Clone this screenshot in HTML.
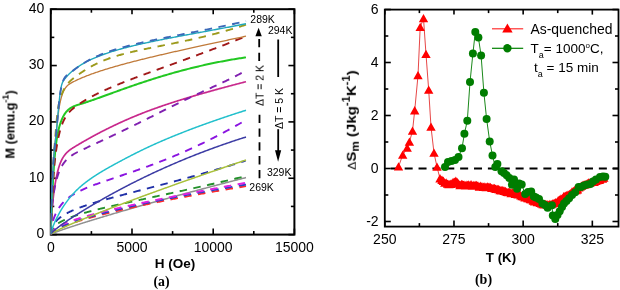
<!DOCTYPE html>
<html><head><meta charset="utf-8"><style>
html,body{margin:0;padding:0;background:#fff;}
svg{display:block;} text{will-change:transform;}
</style></head><body>
<svg width="620" height="290" viewBox="0 0 620 290">
<rect width="620" height="290" fill="#fff"/>
<g stroke="#000" stroke-width="1.6">
<line x1="50.80" y1="234.60" x2="50.80" y2="228.60"/>
<line x1="50.80" y1="9.20" x2="50.80" y2="14.20"/>
<line x1="132.00" y1="234.60" x2="132.00" y2="228.60"/>
<line x1="132.00" y1="9.20" x2="132.00" y2="14.20"/>
<line x1="213.20" y1="234.60" x2="213.20" y2="228.60"/>
<line x1="213.20" y1="9.20" x2="213.20" y2="14.20"/>
<line x1="294.40" y1="234.60" x2="294.40" y2="228.60"/>
<line x1="294.40" y1="9.20" x2="294.40" y2="14.20"/>
<line x1="91.40" y1="234.60" x2="91.40" y2="231.10"/>
<line x1="91.40" y1="9.20" x2="91.40" y2="12.70"/>
<line x1="172.60" y1="234.60" x2="172.60" y2="231.10"/>
<line x1="172.60" y1="9.20" x2="172.60" y2="12.70"/>
<line x1="253.80" y1="234.60" x2="253.80" y2="231.10"/>
<line x1="253.80" y1="9.20" x2="253.80" y2="12.70"/>
<line x1="50.80" y1="234.60" x2="56.80" y2="234.60"/>
<line x1="294.40" y1="234.60" x2="288.40" y2="234.60"/>
<line x1="50.80" y1="178.25" x2="56.80" y2="178.25"/>
<line x1="294.40" y1="178.25" x2="288.40" y2="178.25"/>
<line x1="50.80" y1="121.90" x2="56.80" y2="121.90"/>
<line x1="294.40" y1="121.90" x2="288.40" y2="121.90"/>
<line x1="50.80" y1="65.55" x2="56.80" y2="65.55"/>
<line x1="294.40" y1="65.55" x2="288.40" y2="65.55"/>
<line x1="50.80" y1="9.20" x2="56.80" y2="9.20"/>
<line x1="294.40" y1="9.20" x2="288.40" y2="9.20"/>
<line x1="50.80" y1="206.42" x2="54.30" y2="206.42"/>
<line x1="294.40" y1="206.42" x2="290.90" y2="206.42"/>
<line x1="50.80" y1="150.07" x2="54.30" y2="150.07"/>
<line x1="294.40" y1="150.07" x2="290.90" y2="150.07"/>
<line x1="50.80" y1="93.72" x2="54.30" y2="93.72"/>
<line x1="294.40" y1="93.72" x2="290.90" y2="93.72"/>
<line x1="50.80" y1="37.38" x2="54.30" y2="37.38"/>
<line x1="294.40" y1="37.38" x2="290.90" y2="37.38"/>
</g>
<rect x="50.80" y="9.20" width="243.60" height="225.40" fill="none" stroke="#000" stroke-width="2"/>
<clipPath id="cl"><rect x="50.6" y="9" width="244" height="225.6"/></clipPath>
<g clip-path="url(#cl)" fill="none" stroke-linecap="butt" stroke-linejoin="round">
<path d="M50.80,234.50 L50.80,234.48 L50.81,234.46 L50.82,234.44 L50.83,234.42 L50.85,234.40 L50.88,234.37 L50.91,234.35 L50.94,234.32 L50.98,234.29 L51.02,234.26 L51.06,234.23 L51.11,234.20 L51.17,234.16 L51.23,234.13 L51.29,234.09 L51.36,234.05 L51.43,234.01 L51.51,233.97 L51.59,233.93 L51.67,233.89 L51.76,233.84 L51.86,233.80 L51.96,233.75 L52.06,233.70 L52.16,233.65 L52.28,233.60 L52.39,233.55 L52.51,233.49 L52.64,233.44 L52.77,233.38 L52.90,233.32 L53.04,233.26 L53.18,233.20 L53.32,233.14 L53.47,233.08 L53.63,233.01 L53.79,232.95 L53.95,232.88 L54.12,232.81 L54.29,232.74 L54.47,232.67 L54.65,232.60 L54.84,232.53 L55.03,232.45 L55.22,232.38 L55.42,232.30 L55.62,232.22 L55.83,232.14 L56.04,232.06 L56.26,231.98 L56.48,231.90 L56.70,231.81 L56.93,231.73 L57.17,231.64 L57.40,231.55 L57.65,231.46 L57.89,231.37 L58.15,231.28 L58.40,231.19 L58.66,231.09 L58.92,231.00 L59.19,230.90 L59.47,230.80 L59.74,230.70 L60.02,230.60 L60.31,230.50 L60.60,230.40 L60.90,230.29 L61.20,230.19 L61.50,230.08 L61.81,229.97 L62.12,229.86 L62.44,229.75 L62.76,229.64 L63.08,229.53 L63.41,229.41 L63.75,229.30 L64.08,229.18 L64.43,229.06 L64.77,228.94 L65.13,228.82 L65.48,228.70 L65.84,228.58 L66.21,228.46 L66.58,228.33 L66.95,228.21 L67.33,228.08 L67.71,227.95 L68.09,227.82 L68.49,227.69 L68.88,227.56 L69.28,227.42 L69.68,227.29 L70.09,227.16 L70.51,227.02 L70.92,226.88 L71.34,226.74 L71.77,226.60 L72.20,226.46 L72.63,226.32 L73.07,226.17 L73.52,226.03 L73.96,225.88 L74.42,225.74 L74.87,225.59 L75.33,225.44 L75.80,225.29 L76.27,225.14 L76.74,224.98 L77.22,224.83 L77.70,224.67 L78.19,224.52 L78.68,224.36 L79.18,224.20 L79.68,224.04 L80.18,223.88 L80.69,223.72 L81.20,223.56 L81.72,223.39 L82.24,223.23 L82.77,223.06 L83.30,222.89 L83.83,222.73 L84.37,222.56 L84.92,222.39 L85.46,222.21 L86.02,222.04 L86.57,221.87 L87.13,221.69 L87.70,221.52 L88.27,221.34 L88.84,221.16 L89.42,220.98 L90.01,220.80 L90.59,220.62 L91.18,220.43 L91.78,220.25 L92.38,220.07 L92.99,219.88 L93.60,219.69 L94.21,219.50 L94.83,219.32 L95.45,219.12 L96.08,218.93 L96.71,218.74 L97.34,218.55 L97.98,218.35 L98.63,218.16 L99.27,217.96 L99.93,217.76 L100.58,217.56 L101.25,217.36 L101.91,217.16 L102.58,216.96 L103.26,216.76 L103.94,216.55 L104.62,216.35 L105.31,216.14 L106.00,215.93 L106.70,215.73 L107.40,215.52 L108.10,215.31 L108.81,215.10 L109.53,214.88 L110.24,214.67 L110.97,214.46 L111.69,214.24 L112.42,214.02 L113.16,213.81 L113.90,213.59 L114.65,213.37 L115.39,213.15 L116.15,212.93 L116.91,212.70 L117.67,212.48 L118.43,212.25 L119.20,212.03 L119.98,211.80 L120.76,211.57 L121.54,211.35 L122.33,211.12 L123.12,210.89 L123.92,210.65 L124.72,210.42 L125.53,210.19 L126.34,209.95 L127.15,209.72 L127.97,209.48 L128.79,209.24 L129.62,209.01 L130.45,208.77 L131.29,208.53 L132.13,208.28 L132.98,208.04 L133.82,207.80 L134.68,207.55 L135.54,207.31 L136.40,207.06 L137.27,206.82 L138.14,206.57 L139.01,206.32 L139.89,206.07 L140.78,205.82 L141.67,205.57 L142.56,205.31 L143.46,205.06 L144.36,204.80 L145.26,204.55 L146.17,204.29 L147.09,204.03 L148.01,203.77 L148.93,203.52 L149.86,203.26 L150.79,202.99 L151.73,202.73 L152.67,202.47 L153.62,202.20 L154.56,201.94 L155.52,201.67 L156.48,201.41 L157.44,201.14 L158.41,200.87 L159.38,200.60 L160.36,200.33 L161.34,200.06 L162.32,199.79 L163.31,199.51 L164.30,199.24 L165.30,198.96 L166.30,198.69 L167.31,198.41 L168.32,198.13 L169.34,197.85 L170.36,197.58 L171.38,197.29 L172.41,197.01 L173.44,196.73 L174.48,196.45 L175.52,196.16 L176.57,195.88 L177.62,195.59 L178.67,195.31 L179.73,195.02 L180.79,194.73 L181.86,194.44 L182.93,194.15 L184.01,193.86 L185.09,193.57 L186.17,193.28 L187.26,192.98 L188.36,192.69 L189.46,192.39 L190.56,192.10 L191.67,191.80 L192.78,191.50 L193.89,191.21 L195.01,190.91 L196.14,190.61 L197.27,190.30 L198.40,190.00 L199.54,189.70 L200.68,189.40 L201.83,189.09 L202.98,188.79 L204.13,188.48 L205.29,188.17 L206.45,187.87 L207.62,187.56 L208.79,187.25 L209.97,186.94 L211.15,186.63 L212.34,186.32 L213.53,186.00 L214.72,185.69 L215.92,185.38 L217.12,185.06 L218.33,184.74 L219.54,184.43 L220.76,184.11 L221.98,183.79 L223.21,183.47 L224.43,183.15 L225.67,182.83 L226.91,182.51 L228.15,182.19 L229.40,181.87 L230.65,181.54 L231.90,181.22 L233.16,180.89 L234.43,180.57 L235.69,180.24 L236.97,179.91 L238.24,179.58 L239.53,179.26 L240.81,178.93 L242.10,178.60 L243.40,178.26 L244.70,177.93 L246.00,177.60" stroke="#909090" stroke-width="1.5"/>
<path d="M50.80,234.50 L50.80,234.42 L50.81,234.33 L50.82,234.25 L50.83,234.16 L50.85,234.08 L50.88,233.99 L50.91,233.90 L50.94,233.81 L50.98,233.72 L51.02,233.64 L51.06,233.54 L51.11,233.45 L51.17,233.36 L51.23,233.27 L51.29,233.18 L51.36,233.08 L51.43,232.99 L51.51,232.89 L51.59,232.80 L51.67,232.70 L51.76,232.60 L51.86,232.51 L51.96,232.41 L52.06,232.31 L52.16,232.21 L52.28,232.11 L52.39,232.01 L52.51,231.90 L52.64,231.80 L52.77,231.70 L52.90,231.59 L53.04,231.49 L53.18,231.39 L53.32,231.28 L53.47,231.17 L53.63,231.07 L53.79,230.96 L53.95,230.85 L54.12,230.74 L54.29,230.63 L54.47,230.52 L54.65,230.41 L54.84,230.30 L55.03,230.19 L55.22,230.07 L55.42,229.96 L55.62,229.85 L55.83,229.73 L56.04,229.61 L56.26,229.50 L56.48,229.38 L56.70,229.26 L56.93,229.15 L57.17,229.03 L57.40,228.91 L57.65,228.79 L57.89,228.67 L58.15,228.55 L58.40,228.43 L58.66,228.30 L58.92,228.18 L59.19,228.06 L59.47,227.93 L59.74,227.81 L60.02,227.68 L60.31,227.56 L60.60,227.43 L60.90,227.31 L61.20,227.18 L61.50,227.05 L61.81,226.92 L62.12,226.79 L62.44,226.66 L62.76,226.53 L63.08,226.40 L63.41,226.27 L63.75,226.14 L64.08,226.00 L64.43,225.87 L64.77,225.74 L65.13,225.60 L65.48,225.47 L65.84,225.33 L66.21,225.20 L66.58,225.06 L66.95,224.92 L67.33,224.78 L67.71,224.65 L68.09,224.51 L68.49,224.37 L68.88,224.23 L69.28,224.09 L69.68,223.95 L70.09,223.81 L70.51,223.66 L70.92,223.52 L71.34,223.38 L71.77,223.23 L72.20,223.09 L72.63,222.94 L73.07,222.80 L73.52,222.65 L73.96,222.51 L74.42,222.36 L74.87,222.21 L75.33,222.06 L75.80,221.92 L76.27,221.77 L76.74,221.62 L77.22,221.47 L77.70,221.32 L78.19,221.17 L78.68,221.02 L79.18,220.86 L79.68,220.71 L80.18,220.56 L80.69,220.40 L81.20,220.25 L81.72,220.10 L82.24,219.94 L82.77,219.79 L83.30,219.63 L83.83,219.47 L84.37,219.32 L84.92,219.16 L85.46,219.00 L86.02,218.84 L86.57,218.68 L87.13,218.52 L87.70,218.36 L88.27,218.20 L88.84,218.04 L89.42,217.88 L90.01,217.72 L90.59,217.56 L91.18,217.40 L91.78,217.23 L92.38,217.07 L92.99,216.91 L93.60,216.74 L94.21,216.58 L94.83,216.41 L95.45,216.25 L96.08,216.08 L96.71,215.91 L97.34,215.75 L97.98,215.58 L98.63,215.41 L99.27,215.24 L99.93,215.07 L100.58,214.90 L101.25,214.73 L101.91,214.56 L102.58,214.39 L103.26,214.22 L103.94,214.05 L104.62,213.88 L105.31,213.71 L106.00,213.53 L106.70,213.36 L107.40,213.19 L108.10,213.01 L108.81,212.84 L109.53,212.67 L110.24,212.49 L110.97,212.31 L111.69,212.14 L112.42,211.96 L113.16,211.79 L113.90,211.61 L114.65,211.43 L115.39,211.25 L116.15,211.07 L116.91,210.90 L117.67,210.72 L118.43,210.54 L119.20,210.36 L119.98,210.18 L120.76,210.00 L121.54,209.82 L122.33,209.63 L123.12,209.45 L123.92,209.27 L124.72,209.09 L125.53,208.91 L126.34,208.72 L127.15,208.54 L127.97,208.35 L128.79,208.17 L129.62,207.99 L130.45,207.80 L131.29,207.62 L132.13,207.43 L132.98,207.24 L133.82,207.06 L134.68,206.87 L135.54,206.68 L136.40,206.50 L137.27,206.31 L138.14,206.12 L139.01,205.93 L139.89,205.74 L140.78,205.55 L141.67,205.36 L142.56,205.17 L143.46,204.98 L144.36,204.79 L145.26,204.60 L146.17,204.41 L147.09,204.22 L148.01,204.03 L148.93,203.84 L149.86,203.64 L150.79,203.45 L151.73,203.26 L152.67,203.07 L153.62,202.87 L154.56,202.68 L155.52,202.48 L156.48,202.29 L157.44,202.09 L158.41,201.90 L159.38,201.70 L160.36,201.51 L161.34,201.31 L162.32,201.12 L163.31,200.92 L164.30,200.72 L165.30,200.52 L166.30,200.33 L167.31,200.13 L168.32,199.93 L169.34,199.73 L170.36,199.53 L171.38,199.34 L172.41,199.14 L173.44,198.94 L174.48,198.74 L175.52,198.54 L176.57,198.34 L177.62,198.14 L178.67,197.94 L179.73,197.74 L180.79,197.53 L181.86,197.33 L182.93,197.13 L184.01,196.93 L185.09,196.73 L186.17,196.52 L187.26,196.32 L188.36,196.12 L189.46,195.92 L190.56,195.71 L191.67,195.51 L192.78,195.30 L193.89,195.10 L195.01,194.90 L196.14,194.69 L197.27,194.49 L198.40,194.28 L199.54,194.08 L200.68,193.87 L201.83,193.66 L202.98,193.46 L204.13,193.25 L205.29,193.05 L206.45,192.84 L207.62,192.63 L208.79,192.43 L209.97,192.22 L211.15,192.01 L212.34,191.80 L213.53,191.60 L214.72,191.39 L215.92,191.18 L217.12,190.97 L218.33,190.76 L219.54,190.55 L220.76,190.34 L221.98,190.14 L223.21,189.93 L224.43,189.72 L225.67,189.51 L226.91,189.30 L228.15,189.09 L229.40,188.88 L230.65,188.67 L231.90,188.45 L233.16,188.24 L234.43,188.03 L235.69,187.82 L236.97,187.61 L238.24,187.40 L239.53,187.19 L240.81,186.98 L242.10,186.76 L243.40,186.55 L244.70,186.34 L246.00,186.13" stroke="#ff2a2a" stroke-width="1.9" stroke-dasharray="7.5 6.5"/>
<path d="M50.80,234.50 L50.80,234.41 L50.81,234.31 L50.82,234.22 L50.83,234.12 L50.85,234.03 L50.88,233.93 L50.91,233.84 L50.94,233.74 L50.98,233.64 L51.02,233.54 L51.06,233.44 L51.11,233.34 L51.17,233.24 L51.23,233.14 L51.29,233.04 L51.36,232.93 L51.43,232.83 L51.51,232.73 L51.59,232.62 L51.67,232.52 L51.76,232.41 L51.86,232.30 L51.96,232.20 L52.06,232.09 L52.16,231.98 L52.28,231.87 L52.39,231.76 L52.51,231.65 L52.64,231.54 L52.77,231.43 L52.90,231.31 L53.04,231.20 L53.18,231.09 L53.32,230.97 L53.47,230.86 L53.63,230.74 L53.79,230.63 L53.95,230.51 L54.12,230.39 L54.29,230.28 L54.47,230.16 L54.65,230.04 L54.84,229.92 L55.03,229.80 L55.22,229.68 L55.42,229.56 L55.62,229.43 L55.83,229.31 L56.04,229.19 L56.26,229.06 L56.48,228.94 L56.70,228.81 L56.93,228.69 L57.17,228.56 L57.40,228.44 L57.65,228.31 L57.89,228.18 L58.15,228.05 L58.40,227.92 L58.66,227.79 L58.92,227.66 L59.19,227.53 L59.47,227.40 L59.74,227.27 L60.02,227.14 L60.31,227.00 L60.60,226.87 L60.90,226.74 L61.20,226.60 L61.50,226.47 L61.81,226.33 L62.12,226.19 L62.44,226.06 L62.76,225.92 L63.08,225.78 L63.41,225.64 L63.75,225.50 L64.08,225.36 L64.43,225.22 L64.77,225.08 L65.13,224.94 L65.48,224.80 L65.84,224.66 L66.21,224.52 L66.58,224.37 L66.95,224.23 L67.33,224.08 L67.71,223.94 L68.09,223.79 L68.49,223.65 L68.88,223.50 L69.28,223.35 L69.68,223.21 L70.09,223.06 L70.51,222.91 L70.92,222.76 L71.34,222.61 L71.77,222.46 L72.20,222.31 L72.63,222.16 L73.07,222.01 L73.52,221.86 L73.96,221.70 L74.42,221.55 L74.87,221.40 L75.33,221.24 L75.80,221.09 L76.27,220.94 L76.74,220.78 L77.22,220.62 L77.70,220.47 L78.19,220.31 L78.68,220.15 L79.18,220.00 L79.68,219.84 L80.18,219.68 L80.69,219.52 L81.20,219.36 L81.72,219.20 L82.24,219.04 L82.77,218.88 L83.30,218.72 L83.83,218.55 L84.37,218.39 L84.92,218.23 L85.46,218.07 L86.02,217.90 L86.57,217.74 L87.13,217.57 L87.70,217.41 L88.27,217.24 L88.84,217.08 L89.42,216.91 L90.01,216.74 L90.59,216.58 L91.18,216.41 L91.78,216.24 L92.38,216.07 L92.99,215.90 L93.60,215.73 L94.21,215.56 L94.83,215.39 L95.45,215.22 L96.08,215.05 L96.71,214.88 L97.34,214.71 L97.98,214.53 L98.63,214.36 L99.27,214.19 L99.93,214.02 L100.58,213.84 L101.25,213.67 L101.91,213.49 L102.58,213.32 L103.26,213.14 L103.94,212.96 L104.62,212.79 L105.31,212.61 L106.00,212.43 L106.70,212.26 L107.40,212.08 L108.10,211.90 L108.81,211.72 L109.53,211.54 L110.24,211.36 L110.97,211.18 L111.69,211.00 L112.42,210.82 L113.16,210.64 L113.90,210.46 L114.65,210.28 L115.39,210.09 L116.15,209.91 L116.91,209.73 L117.67,209.55 L118.43,209.36 L119.20,209.18 L119.98,208.99 L120.76,208.81 L121.54,208.62 L122.33,208.44 L123.12,208.25 L123.92,208.07 L124.72,207.88 L125.53,207.69 L126.34,207.51 L127.15,207.32 L127.97,207.13 L128.79,206.94 L129.62,206.75 L130.45,206.57 L131.29,206.38 L132.13,206.19 L132.98,206.00 L133.82,205.81 L134.68,205.62 L135.54,205.42 L136.40,205.23 L137.27,205.04 L138.14,204.85 L139.01,204.66 L139.89,204.47 L140.78,204.27 L141.67,204.08 L142.56,203.89 L143.46,203.69 L144.36,203.50 L145.26,203.30 L146.17,203.11 L147.09,202.91 L148.01,202.72 L148.93,202.52 L149.86,202.33 L150.79,202.13 L151.73,201.94 L152.67,201.74 L153.62,201.54 L154.56,201.34 L155.52,201.15 L156.48,200.95 L157.44,200.75 L158.41,200.55 L159.38,200.35 L160.36,200.15 L161.34,199.96 L162.32,199.76 L163.31,199.56 L164.30,199.36 L165.30,199.16 L166.30,198.96 L167.31,198.75 L168.32,198.55 L169.34,198.35 L170.36,198.15 L171.38,197.95 L172.41,197.75 L173.44,197.54 L174.48,197.34 L175.52,197.14 L176.57,196.94 L177.62,196.73 L178.67,196.53 L179.73,196.32 L180.79,196.12 L181.86,195.92 L182.93,195.71 L184.01,195.51 L185.09,195.30 L186.17,195.10 L187.26,194.89 L188.36,194.68 L189.46,194.48 L190.56,194.27 L191.67,194.07 L192.78,193.86 L193.89,193.65 L195.01,193.45 L196.14,193.24 L197.27,193.03 L198.40,192.82 L199.54,192.61 L200.68,192.41 L201.83,192.20 L202.98,191.99 L204.13,191.78 L205.29,191.57 L206.45,191.36 L207.62,191.15 L208.79,190.94 L209.97,190.73 L211.15,190.52 L212.34,190.31 L213.53,190.10 L214.72,189.89 L215.92,189.68 L217.12,189.47 L218.33,189.26 L219.54,189.05 L220.76,188.84 L221.98,188.63 L223.21,188.41 L224.43,188.20 L225.67,187.99 L226.91,187.78 L228.15,187.56 L229.40,187.35 L230.65,187.14 L231.90,186.93 L233.16,186.71 L234.43,186.50 L235.69,186.29 L236.97,186.07 L238.24,185.86 L239.53,185.65 L240.81,185.43 L242.10,185.22 L243.40,185.00 L244.70,184.79 L246.00,184.57" stroke="#2844c8" stroke-width="1.9" stroke-dasharray="7.5 6.5"/>
<path d="M50.80,234.50 L50.80,234.37 L50.81,234.24 L50.82,234.10 L50.83,233.97 L50.85,233.84 L50.88,233.71 L50.91,233.57 L50.94,233.44 L50.98,233.31 L51.02,233.17 L51.06,233.04 L51.11,232.91 L51.17,232.77 L51.23,232.64 L51.29,232.51 L51.36,232.37 L51.43,232.24 L51.51,232.11 L51.59,231.97 L51.67,231.84 L51.76,231.70 L51.86,231.57 L51.96,231.43 L52.06,231.30 L52.16,231.16 L52.28,231.03 L52.39,230.89 L52.51,230.76 L52.64,230.62 L52.77,230.48 L52.90,230.35 L53.04,230.21 L53.18,230.08 L53.32,229.94 L53.47,229.80 L53.63,229.67 L53.79,229.53 L53.95,229.39 L54.12,229.25 L54.29,229.12 L54.47,228.98 L54.65,228.84 L54.84,228.70 L55.03,228.56 L55.22,228.43 L55.42,228.29 L55.62,228.15 L55.83,228.01 L56.04,227.87 L56.26,227.73 L56.48,227.59 L56.70,227.45 L56.93,227.31 L57.17,227.17 L57.40,227.03 L57.65,226.89 L57.89,226.75 L58.15,226.61 L58.40,226.47 L58.66,226.33 L58.92,226.18 L59.19,226.04 L59.47,225.90 L59.74,225.76 L60.02,225.62 L60.31,225.47 L60.60,225.33 L60.90,225.19 L61.20,225.04 L61.50,224.90 L61.81,224.76 L62.12,224.61 L62.44,224.47 L62.76,224.32 L63.08,224.18 L63.41,224.03 L63.75,223.89 L64.08,223.74 L64.43,223.60 L64.77,223.45 L65.13,223.31 L65.48,223.16 L65.84,223.01 L66.21,222.87 L66.58,222.72 L66.95,222.57 L67.33,222.42 L67.71,222.28 L68.09,222.13 L68.49,221.98 L68.88,221.83 L69.28,221.68 L69.68,221.53 L70.09,221.38 L70.51,221.23 L70.92,221.08 L71.34,220.93 L71.77,220.78 L72.20,220.63 L72.63,220.48 L73.07,220.33 L73.52,220.18 L73.96,220.03 L74.42,219.87 L74.87,219.72 L75.33,219.57 L75.80,219.42 L76.27,219.26 L76.74,219.11 L77.22,218.95 L77.70,218.80 L78.19,218.65 L78.68,218.49 L79.18,218.34 L79.68,218.18 L80.18,218.02 L80.69,217.87 L81.20,217.71 L81.72,217.56 L82.24,217.40 L82.77,217.24 L83.30,217.08 L83.83,216.93 L84.37,216.77 L84.92,216.61 L85.46,216.45 L86.02,216.29 L86.57,216.13 L87.13,215.97 L87.70,215.81 L88.27,215.65 L88.84,215.49 L89.42,215.33 L90.01,215.17 L90.59,215.01 L91.18,214.85 L91.78,214.68 L92.38,214.52 L92.99,214.36 L93.60,214.19 L94.21,214.03 L94.83,213.87 L95.45,213.70 L96.08,213.54 L96.71,213.37 L97.34,213.21 L97.98,213.04 L98.63,212.88 L99.27,212.71 L99.93,212.54 L100.58,212.37 L101.25,212.21 L101.91,212.04 L102.58,211.87 L103.26,211.70 L103.94,211.53 L104.62,211.36 L105.31,211.19 L106.00,211.02 L106.70,210.85 L107.40,210.68 L108.10,210.51 L108.81,210.34 L109.53,210.17 L110.24,210.00 L110.97,209.82 L111.69,209.65 L112.42,209.48 L113.16,209.30 L113.90,209.13 L114.65,208.95 L115.39,208.78 L116.15,208.60 L116.91,208.43 L117.67,208.25 L118.43,208.07 L119.20,207.90 L119.98,207.72 L120.76,207.54 L121.54,207.36 L122.33,207.18 L123.12,207.00 L123.92,206.83 L124.72,206.65 L125.53,206.46 L126.34,206.28 L127.15,206.10 L127.97,205.92 L128.79,205.74 L129.62,205.56 L130.45,205.37 L131.29,205.19 L132.13,205.01 L132.98,204.82 L133.82,204.64 L134.68,204.45 L135.54,204.27 L136.40,204.08 L137.27,203.90 L138.14,203.71 L139.01,203.52 L139.89,203.33 L140.78,203.15 L141.67,202.96 L142.56,202.77 L143.46,202.58 L144.36,202.39 L145.26,202.20 L146.17,202.01 L147.09,201.82 L148.01,201.62 L148.93,201.43 L149.86,201.24 L150.79,201.05 L151.73,200.85 L152.67,200.66 L153.62,200.46 L154.56,200.27 L155.52,200.07 L156.48,199.88 L157.44,199.68 L158.41,199.48 L159.38,199.29 L160.36,199.09 L161.34,198.89 L162.32,198.69 L163.31,198.49 L164.30,198.29 L165.30,198.09 L166.30,197.89 L167.31,197.69 L168.32,197.49 L169.34,197.29 L170.36,197.08 L171.38,196.88 L172.41,196.68 L173.44,196.47 L174.48,196.27 L175.52,196.06 L176.57,195.86 L177.62,195.65 L178.67,195.45 L179.73,195.24 L180.79,195.03 L181.86,194.82 L182.93,194.61 L184.01,194.40 L185.09,194.19 L186.17,193.98 L187.26,193.77 L188.36,193.56 L189.46,193.35 L190.56,193.14 L191.67,192.92 L192.78,192.71 L193.89,192.50 L195.01,192.28 L196.14,192.07 L197.27,191.85 L198.40,191.64 L199.54,191.42 L200.68,191.20 L201.83,190.98 L202.98,190.77 L204.13,190.55 L205.29,190.33 L206.45,190.11 L207.62,189.89 L208.79,189.67 L209.97,189.44 L211.15,189.22 L212.34,189.00 L213.53,188.78 L214.72,188.55 L215.92,188.33 L217.12,188.10 L218.33,187.88 L219.54,187.65 L220.76,187.42 L221.98,187.20 L223.21,186.97 L224.43,186.74 L225.67,186.51 L226.91,186.28 L228.15,186.05 L229.40,185.82 L230.65,185.59 L231.90,185.36 L233.16,185.13 L234.43,184.89 L235.69,184.66 L236.97,184.42 L238.24,184.19 L239.53,183.95 L240.81,183.72 L242.10,183.48 L243.40,183.24 L244.70,183.01 L246.00,182.77" stroke="#e020e0" stroke-width="1.9" stroke-dasharray="7.5 6.5"/>
<path d="M50.80,234.50 L50.80,234.28 L50.81,234.06 L50.82,233.85 L50.83,233.63 L50.85,233.42 L50.88,233.21 L50.91,233.00 L50.94,232.79 L50.98,232.58 L51.02,232.37 L51.06,232.16 L51.11,231.95 L51.17,231.75 L51.23,231.54 L51.29,231.34 L51.36,231.14 L51.43,230.94 L51.51,230.74 L51.59,230.54 L51.67,230.34 L51.76,230.14 L51.86,229.94 L51.96,229.75 L52.06,229.55 L52.16,229.36 L52.28,229.16 L52.39,228.97 L52.51,228.78 L52.64,228.59 L52.77,228.40 L52.90,228.21 L53.04,228.02 L53.18,227.84 L53.32,227.65 L53.47,227.46 L53.63,227.28 L53.79,227.09 L53.95,226.91 L54.12,226.73 L54.29,226.55 L54.47,226.36 L54.65,226.18 L54.84,226.00 L55.03,225.83 L55.22,225.65 L55.42,225.47 L55.62,225.29 L55.83,225.12 L56.04,224.94 L56.26,224.77 L56.48,224.59 L56.70,224.42 L56.93,224.24 L57.17,224.07 L57.40,223.90 L57.65,223.73 L57.89,223.56 L58.15,223.39 L58.40,223.22 L58.66,223.05 L58.92,222.88 L59.19,222.71 L59.47,222.54 L59.74,222.38 L60.02,222.21 L60.31,222.04 L60.60,221.88 L60.90,221.71 L61.20,221.55 L61.50,221.38 L61.81,221.22 L62.12,221.06 L62.44,220.89 L62.76,220.73 L63.08,220.57 L63.41,220.41 L63.75,220.25 L64.08,220.09 L64.43,219.93 L64.77,219.77 L65.13,219.61 L65.48,219.45 L65.84,219.29 L66.21,219.13 L66.58,218.97 L66.95,218.81 L67.33,218.65 L67.71,218.50 L68.09,218.34 L68.49,218.18 L68.88,218.02 L69.28,217.87 L69.68,217.71 L70.09,217.56 L70.51,217.40 L70.92,217.24 L71.34,217.09 L71.77,216.93 L72.20,216.78 L72.63,216.62 L73.07,216.47 L73.52,216.31 L73.96,216.16 L74.42,216.00 L74.87,215.85 L75.33,215.69 L75.80,215.54 L76.27,215.39 L76.74,215.23 L77.22,215.08 L77.70,214.92 L78.19,214.77 L78.68,214.62 L79.18,214.46 L79.68,214.31 L80.18,214.15 L80.69,214.00 L81.20,213.85 L81.72,213.69 L82.24,213.54 L82.77,213.38 L83.30,213.23 L83.83,213.08 L84.37,212.92 L84.92,212.77 L85.46,212.61 L86.02,212.46 L86.57,212.30 L87.13,212.15 L87.70,212.00 L88.27,211.84 L88.84,211.69 L89.42,211.53 L90.01,211.37 L90.59,211.22 L91.18,211.06 L91.78,210.91 L92.38,210.75 L92.99,210.60 L93.60,210.44 L94.21,210.28 L94.83,210.12 L95.45,209.97 L96.08,209.81 L96.71,209.65 L97.34,209.49 L97.98,209.34 L98.63,209.18 L99.27,209.02 L99.93,208.86 L100.58,208.70 L101.25,208.54 L101.91,208.38 L102.58,208.22 L103.26,208.06 L103.94,207.89 L104.62,207.73 L105.31,207.57 L106.00,207.41 L106.70,207.24 L107.40,207.08 L108.10,206.92 L108.81,206.75 L109.53,206.59 L110.24,206.42 L110.97,206.26 L111.69,206.09 L112.42,205.92 L113.16,205.76 L113.90,205.59 L114.65,205.42 L115.39,205.25 L116.15,205.08 L116.91,204.91 L117.67,204.74 L118.43,204.57 L119.20,204.40 L119.98,204.22 L120.76,204.05 L121.54,203.88 L122.33,203.70 L123.12,203.53 L123.92,203.35 L124.72,203.18 L125.53,203.00 L126.34,202.82 L127.15,202.64 L127.97,202.47 L128.79,202.29 L129.62,202.11 L130.45,201.92 L131.29,201.74 L132.13,201.56 L132.98,201.38 L133.82,201.19 L134.68,201.01 L135.54,200.82 L136.40,200.64 L137.27,200.45 L138.14,200.26 L139.01,200.07 L139.89,199.88 L140.78,199.69 L141.67,199.50 L142.56,199.31 L143.46,199.12 L144.36,198.92 L145.26,198.73 L146.17,198.53 L147.09,198.34 L148.01,198.14 L148.93,197.94 L149.86,197.74 L150.79,197.54 L151.73,197.34 L152.67,197.14 L153.62,196.93 L154.56,196.73 L155.52,196.52 L156.48,196.32 L157.44,196.11 L158.41,195.90 L159.38,195.69 L160.36,195.48 L161.34,195.27 L162.32,195.06 L163.31,194.85 L164.30,194.63 L165.30,194.42 L166.30,194.20 L167.31,193.98 L168.32,193.76 L169.34,193.54 L170.36,193.32 L171.38,193.10 L172.41,192.88 L173.44,192.65 L174.48,192.43 L175.52,192.20 L176.57,191.97 L177.62,191.74 L178.67,191.51 L179.73,191.28 L180.79,191.05 L181.86,190.81 L182.93,190.58 L184.01,190.34 L185.09,190.10 L186.17,189.86 L187.26,189.62 L188.36,189.38 L189.46,189.14 L190.56,188.89 L191.67,188.65 L192.78,188.40 L193.89,188.15 L195.01,187.90 L196.14,187.65 L197.27,187.40 L198.40,187.14 L199.54,186.89 L200.68,186.63 L201.83,186.37 L202.98,186.11 L204.13,185.85 L205.29,185.59 L206.45,185.32 L207.62,185.06 L208.79,184.79 L209.97,184.52 L211.15,184.25 L212.34,183.98 L213.53,183.71 L214.72,183.43 L215.92,183.16 L217.12,182.88 L218.33,182.60 L219.54,182.32 L220.76,182.04 L221.98,181.75 L223.21,181.47 L224.43,181.18 L225.67,180.89 L226.91,180.60 L228.15,180.31 L229.40,180.01 L230.65,179.72 L231.90,179.42 L233.16,179.12 L234.43,178.82 L235.69,178.52 L236.97,178.22 L238.24,177.91 L239.53,177.60 L240.81,177.30 L242.10,176.99 L243.40,176.67 L244.70,176.36 L246.00,176.04" stroke="#23902a" stroke-width="1.9" stroke-dasharray="7.5 6.5"/>
<path d="M50.80,234.50 L50.80,234.19 L50.81,233.88 L50.82,233.57 L50.83,233.26 L50.85,232.96 L50.88,232.65 L50.91,232.35 L50.94,232.05 L50.98,231.75 L51.02,231.46 L51.06,231.16 L51.11,230.87 L51.17,230.58 L51.23,230.29 L51.29,230.01 L51.36,229.72 L51.43,229.44 L51.51,229.16 L51.59,228.88 L51.67,228.60 L51.76,228.32 L51.85,228.05 L51.95,227.77 L52.05,227.50 L52.16,227.23 L52.27,226.97 L52.39,226.70 L52.51,226.43 L52.63,226.17 L52.76,225.91 L52.89,225.65 L53.03,225.39 L53.17,225.13 L53.32,224.88 L53.47,224.62 L53.62,224.37 L53.78,224.12 L53.94,223.87 L54.11,223.62 L54.28,223.37 L54.46,223.13 L54.64,222.88 L54.83,222.64 L55.02,222.40 L55.21,222.16 L55.41,221.92 L55.61,221.68 L55.82,221.44 L56.03,221.21 L56.24,220.97 L56.46,220.74 L56.69,220.51 L56.92,220.28 L57.15,220.05 L57.39,219.82 L57.63,219.59 L57.88,219.37 L58.13,219.14 L58.38,218.92 L58.64,218.70 L58.90,218.47 L59.17,218.25 L59.44,218.03 L59.72,217.82 L60.00,217.60 L60.29,217.38 L60.58,217.17 L60.87,216.95 L61.17,216.74 L61.47,216.53 L61.78,216.31 L62.09,216.10 L62.41,215.89 L62.73,215.68 L63.05,215.48 L63.38,215.27 L63.71,215.06 L64.05,214.86 L64.39,214.65 L64.74,214.45 L65.09,214.24 L65.44,214.04 L65.80,213.84 L66.17,213.64 L66.53,213.44 L66.91,213.24 L67.28,213.04 L67.67,212.84 L68.05,212.64 L68.44,212.44 L68.83,212.25 L69.23,212.05 L69.64,211.85 L70.04,211.66 L70.45,211.47 L70.87,211.27 L71.29,211.08 L71.72,210.88 L72.14,210.69 L72.58,210.50 L73.02,210.31 L73.46,210.12 L73.90,209.93 L74.36,209.74 L74.81,209.55 L75.27,209.36 L75.73,209.17 L76.20,208.98 L76.67,208.79 L77.15,208.60 L77.63,208.41 L78.12,208.23 L78.61,208.04 L79.10,207.85 L79.60,207.66 L80.10,207.48 L80.61,207.29 L81.12,207.10 L81.64,206.92 L82.16,206.73 L82.69,206.55 L83.21,206.36 L83.75,206.17 L84.29,205.99 L84.83,205.80 L85.38,205.62 L85.93,205.43 L86.48,205.25 L87.04,205.06 L87.61,204.88 L88.17,204.69 L88.75,204.50 L89.32,204.32 L89.91,204.13 L90.49,203.95 L91.08,203.76 L91.68,203.58 L92.27,203.39 L92.88,203.20 L93.49,203.02 L94.10,202.83 L94.71,202.64 L95.33,202.46 L95.96,202.27 L96.59,202.08 L97.22,201.90 L97.86,201.71 L98.50,201.52 L99.15,201.33 L99.80,201.14 L100.46,200.95 L101.12,200.76 L101.78,200.57 L102.45,200.38 L103.12,200.19 L103.80,200.00 L104.48,199.81 L105.17,199.62 L105.86,199.43 L106.55,199.23 L107.25,199.04 L107.95,198.85 L108.66,198.65 L109.37,198.46 L110.09,198.26 L110.81,198.06 L111.54,197.87 L112.27,197.67 L113.00,197.47 L113.74,197.27 L114.48,197.08 L115.23,196.88 L115.98,196.68 L116.74,196.47 L117.50,196.27 L118.26,196.07 L119.03,195.87 L119.80,195.66 L120.58,195.46 L121.36,195.25 L122.15,195.05 L122.94,194.84 L123.73,194.63 L124.53,194.42 L125.34,194.21 L126.14,194.00 L126.96,193.79 L127.77,193.58 L128.59,193.36 L129.42,193.15 L130.25,192.93 L131.08,192.72 L131.92,192.50 L132.76,192.28 L133.61,192.06 L134.46,191.84 L135.32,191.62 L136.18,191.40 L137.04,191.18 L137.91,190.95 L138.79,190.73 L139.66,190.50 L140.55,190.27 L141.43,190.04 L142.32,189.81 L143.22,189.58 L144.12,189.35 L145.02,189.12 L145.93,188.88 L146.84,188.64 L147.76,188.41 L148.68,188.17 L149.61,187.93 L150.54,187.69 L151.47,187.44 L152.41,187.20 L153.35,186.95 L154.30,186.71 L155.25,186.46 L156.21,186.21 L157.17,185.96 L158.13,185.71 L159.10,185.45 L160.07,185.20 L161.05,184.94 L162.03,184.68 L163.02,184.42 L164.01,184.16 L165.01,183.90 L166.01,183.63 L167.01,183.37 L168.02,183.10 L169.03,182.83 L170.05,182.56 L171.07,182.28 L172.10,182.01 L173.13,181.73 L174.16,181.46 L175.20,181.18 L176.24,180.90 L177.29,180.61 L178.34,180.33 L179.40,180.04 L180.46,179.76 L181.52,179.47 L182.59,179.17 L183.67,178.88 L184.75,178.59 L185.83,178.29 L186.91,177.99 L188.01,177.69 L189.10,177.39 L190.20,177.08 L191.30,176.77 L192.41,176.47 L193.53,176.15 L194.64,175.84 L195.76,175.53 L196.89,175.21 L198.02,174.89 L199.16,174.57 L200.29,174.25 L201.44,173.92 L202.59,173.60 L203.74,173.27 L204.89,172.94 L206.06,172.60 L207.22,172.27 L208.39,171.93 L209.56,171.59 L210.74,171.25 L211.92,170.90 L213.11,170.56 L214.30,170.21 L215.50,169.86 L216.70,169.51 L217.90,169.15 L219.11,168.79 L220.32,168.43 L221.54,168.07 L222.76,167.71 L223.99,167.34 L225.22,166.97 L226.45,166.60 L227.69,166.22 L228.94,165.85 L230.19,165.47 L231.44,165.08 L232.69,164.70 L233.96,164.31 L235.22,163.92 L236.49,163.53 L237.76,163.14 L239.04,162.74 L240.33,162.34 L241.61,161.94 L242.90,161.54 L244.20,161.13 L245.50,160.72" stroke="#2030a8" stroke-width="1.9" stroke-dasharray="7.5 6.5"/>
<path d="M50.80,234.50 L50.80,234.47 L50.81,234.43 L50.82,234.39 L50.83,234.36 L50.85,234.32 L50.88,234.28 L50.91,234.23 L50.94,234.19 L50.98,234.14 L51.02,234.09 L51.06,234.05 L51.11,233.99 L51.17,233.94 L51.23,233.89 L51.29,233.83 L51.36,233.77 L51.43,233.72 L51.51,233.66 L51.59,233.59 L51.67,233.53 L51.76,233.47 L51.86,233.40 L51.96,233.33 L52.06,233.26 L52.16,233.19 L52.28,233.12 L52.39,233.04 L52.51,232.97 L52.64,232.89 L52.77,232.81 L52.90,232.73 L53.04,232.64 L53.18,232.56 L53.32,232.48 L53.47,232.39 L53.63,232.30 L53.79,232.21 L53.95,232.12 L54.12,232.02 L54.29,231.93 L54.47,231.83 L54.65,231.74 L54.84,231.64 L55.03,231.54 L55.22,231.43 L55.42,231.33 L55.62,231.22 L55.83,231.12 L56.04,231.01 L56.26,230.90 L56.48,230.78 L56.70,230.67 L56.93,230.56 L57.17,230.44 L57.40,230.32 L57.65,230.20 L57.89,230.08 L58.15,229.96 L58.40,229.84 L58.66,229.71 L58.92,229.58 L59.19,229.46 L59.47,229.33 L59.74,229.19 L60.02,229.06 L60.31,228.93 L60.60,228.79 L60.90,228.65 L61.20,228.51 L61.50,228.37 L61.81,228.23 L62.12,228.09 L62.44,227.94 L62.76,227.80 L63.08,227.65 L63.41,227.50 L63.75,227.35 L64.08,227.20 L64.43,227.04 L64.77,226.89 L65.13,226.73 L65.48,226.57 L65.84,226.41 L66.21,226.25 L66.58,226.09 L66.95,225.92 L67.33,225.76 L67.71,225.59 L68.09,225.42 L68.49,225.25 L68.88,225.08 L69.28,224.91 L69.68,224.73 L70.09,224.56 L70.51,224.38 L70.92,224.20 L71.34,224.02 L71.77,223.84 L72.20,223.65 L72.63,223.47 L73.07,223.28 L73.52,223.09 L73.96,222.91 L74.42,222.71 L74.87,222.52 L75.33,222.33 L75.80,222.13 L76.27,221.94 L76.74,221.74 L77.22,221.54 L77.70,221.34 L78.19,221.14 L78.68,220.94 L79.18,220.73 L79.68,220.52 L80.18,220.32 L80.69,220.11 L81.20,219.90 L81.72,219.68 L82.24,219.47 L82.77,219.26 L83.30,219.04 L83.83,218.82 L84.37,218.60 L84.92,218.38 L85.46,218.16 L86.02,217.94 L86.57,217.71 L87.13,217.49 L87.70,217.26 L88.27,217.03 L88.84,216.80 L89.42,216.57 L90.01,216.33 L90.59,216.10 L91.18,215.86 L91.78,215.63 L92.38,215.39 L92.99,215.15 L93.60,214.91 L94.21,214.66 L94.83,214.42 L95.45,214.17 L96.08,213.93 L96.71,213.68 L97.34,213.43 L97.98,213.18 L98.63,212.93 L99.27,212.67 L99.93,212.42 L100.58,212.16 L101.25,211.90 L101.91,211.64 L102.58,211.38 L103.26,211.12 L103.94,210.86 L104.62,210.59 L105.31,210.33 L106.00,210.06 L106.70,209.79 L107.40,209.52 L108.10,209.25 L108.81,208.97 L109.53,208.70 L110.24,208.42 L110.97,208.15 L111.69,207.87 L112.42,207.59 L113.16,207.31 L113.90,207.03 L114.65,206.74 L115.39,206.46 L116.15,206.17 L116.91,205.88 L117.67,205.59 L118.43,205.30 L119.20,205.01 L119.98,204.72 L120.76,204.43 L121.54,204.13 L122.33,203.83 L123.12,203.53 L123.92,203.24 L124.72,202.93 L125.53,202.63 L126.34,202.33 L127.15,202.02 L127.97,201.72 L128.79,201.41 L129.62,201.10 L130.45,200.79 L131.29,200.48 L132.13,200.17 L132.98,199.85 L133.82,199.54 L134.68,199.22 L135.54,198.90 L136.40,198.58 L137.27,198.26 L138.14,197.94 L139.01,197.62 L139.89,197.30 L140.78,196.97 L141.67,196.64 L142.56,196.32 L143.46,195.99 L144.36,195.66 L145.26,195.32 L146.17,194.99 L147.09,194.66 L148.01,194.32 L148.93,193.98 L149.86,193.64 L150.79,193.30 L151.73,192.96 L152.67,192.62 L153.62,192.28 L154.56,191.93 L155.52,191.59 L156.48,191.24 L157.44,190.89 L158.41,190.54 L159.38,190.19 L160.36,189.84 L161.34,189.49 L162.32,189.13 L163.31,188.78 L164.30,188.42 L165.30,188.06 L166.30,187.70 L167.31,187.34 L168.32,186.98 L169.34,186.61 L170.36,186.25 L171.38,185.88 L172.41,185.52 L173.44,185.15 L174.48,184.78 L175.52,184.41 L176.57,184.04 L177.62,183.66 L178.67,183.29 L179.73,182.91 L180.79,182.54 L181.86,182.16 L182.93,181.78 L184.01,181.40 L185.09,181.02 L186.17,180.63 L187.26,180.25 L188.36,179.86 L189.46,179.48 L190.56,179.09 L191.67,178.70 L192.78,178.31 L193.89,177.92 L195.01,177.53 L196.14,177.13 L197.27,176.74 L198.40,176.34 L199.54,175.95 L200.68,175.55 L201.83,175.15 L202.98,174.75 L204.13,174.34 L205.29,173.94 L206.45,173.54 L207.62,173.13 L208.79,172.73 L209.97,172.32 L211.15,171.91 L212.34,171.50 L213.53,171.09 L214.72,170.67 L215.92,170.26 L217.12,169.85 L218.33,169.43 L219.54,169.01 L220.76,168.59 L221.98,168.17 L223.21,167.75 L224.43,167.33 L225.67,166.91 L226.91,166.48 L228.15,166.06 L229.40,165.63 L230.65,165.20 L231.90,164.78 L233.16,164.35 L234.43,163.91 L235.69,163.48 L236.97,163.05 L238.24,162.61 L239.53,162.18 L240.81,161.74 L242.10,161.30 L243.40,160.86 L244.70,160.42 L246.00,159.98" stroke="#a8c03a" stroke-width="1.5"/>
<path d="M50.80,234.50 L50.80,234.45 L50.81,234.39 L50.82,234.33 L50.83,234.27 L50.85,234.21 L50.88,234.14 L50.91,234.07 L50.94,234.00 L50.98,233.93 L51.02,233.85 L51.06,233.77 L51.11,233.69 L51.17,233.61 L51.23,233.52 L51.29,233.43 L51.36,233.34 L51.43,233.25 L51.51,233.15 L51.59,233.05 L51.67,232.95 L51.76,232.85 L51.86,232.74 L51.96,232.63 L52.06,232.52 L52.16,232.41 L52.28,232.29 L52.39,232.17 L52.51,232.05 L52.64,231.93 L52.77,231.80 L52.90,231.67 L53.04,231.54 L53.18,231.41 L53.32,231.27 L53.47,231.13 L53.63,230.99 L53.79,230.85 L53.95,230.70 L54.12,230.55 L54.29,230.40 L54.47,230.25 L54.65,230.09 L54.84,229.94 L55.03,229.78 L55.22,229.61 L55.42,229.45 L55.62,229.28 L55.83,229.11 L56.04,228.94 L56.26,228.77 L56.48,228.59 L56.70,228.41 L56.93,228.23 L57.17,228.05 L57.40,227.86 L57.65,227.67 L57.89,227.48 L58.15,227.29 L58.40,227.10 L58.66,226.90 L58.92,226.70 L59.19,226.50 L59.47,226.30 L59.74,226.09 L60.02,225.88 L60.31,225.67 L60.60,225.46 L60.90,225.24 L61.20,225.03 L61.50,224.81 L61.81,224.59 L62.12,224.36 L62.44,224.14 L62.76,223.91 L63.08,223.68 L63.41,223.45 L63.75,223.21 L64.08,222.97 L64.43,222.74 L64.77,222.49 L65.13,222.25 L65.48,222.01 L65.84,221.76 L66.21,221.51 L66.58,221.26 L66.95,221.00 L67.33,220.75 L67.71,220.49 L68.09,220.23 L68.49,219.97 L68.88,219.70 L69.28,219.44 L69.68,219.17 L70.09,218.90 L70.51,218.63 L70.92,218.35 L71.34,218.08 L71.77,217.80 L72.20,217.52 L72.63,217.23 L73.07,216.95 L73.52,216.66 L73.96,216.37 L74.42,216.08 L74.87,215.79 L75.33,215.50 L75.80,215.20 L76.27,214.90 L76.74,214.60 L77.22,214.30 L77.70,214.00 L78.19,213.69 L78.68,213.38 L79.18,213.07 L79.68,212.76 L80.18,212.44 L80.69,212.13 L81.20,211.81 L81.72,211.49 L82.24,211.17 L82.77,210.85 L83.30,210.52 L83.83,210.19 L84.37,209.86 L84.92,209.53 L85.46,209.20 L86.02,208.87 L86.57,208.53 L87.13,208.19 L87.70,207.85 L88.27,207.51 L88.84,207.17 L89.42,206.82 L90.01,206.47 L90.59,206.12 L91.18,205.77 L91.78,205.42 L92.38,205.06 L92.99,204.71 L93.60,204.35 L94.21,203.99 L94.83,203.63 L95.45,203.27 L96.08,202.90 L96.71,202.53 L97.34,202.16 L97.98,201.79 L98.63,201.42 L99.27,201.05 L99.93,200.67 L100.58,200.30 L101.25,199.92 L101.91,199.54 L102.58,199.16 L103.26,198.77 L103.94,198.39 L104.62,198.00 L105.31,197.62 L106.00,197.23 L106.70,196.84 L107.40,196.44 L108.10,196.05 L108.81,195.66 L109.53,195.26 L110.24,194.86 L110.97,194.46 L111.69,194.06 L112.42,193.66 L113.16,193.26 L113.90,192.86 L114.65,192.45 L115.39,192.05 L116.15,191.64 L116.91,191.23 L117.67,190.82 L118.43,190.41 L119.20,190.00 L119.98,189.58 L120.76,189.17 L121.54,188.75 L122.33,188.34 L123.12,187.92 L123.92,187.50 L124.72,187.08 L125.53,186.66 L126.34,186.24 L127.15,185.82 L127.97,185.39 L128.79,184.97 L129.62,184.54 L130.45,184.12 L131.29,183.69 L132.13,183.26 L132.98,182.84 L133.82,182.41 L134.68,181.98 L135.54,181.55 L136.40,181.11 L137.27,180.68 L138.14,180.25 L139.01,179.82 L139.89,179.38 L140.78,178.95 L141.67,178.51 L142.56,178.08 L143.46,177.64 L144.36,177.20 L145.26,176.76 L146.17,176.32 L147.09,175.89 L148.01,175.45 L148.93,175.01 L149.86,174.57 L150.79,174.13 L151.73,173.68 L152.67,173.24 L153.62,172.80 L154.56,172.36 L155.52,171.92 L156.48,171.47 L157.44,171.03 L158.41,170.59 L159.38,170.14 L160.36,169.70 L161.34,169.25 L162.32,168.81 L163.31,168.36 L164.30,167.92 L165.30,167.47 L166.30,167.03 L167.31,166.58 L168.32,166.14 L169.34,165.69 L170.36,165.25 L171.38,164.80 L172.41,164.35 L173.44,163.91 L174.48,163.46 L175.52,163.02 L176.57,162.57 L177.62,162.12 L178.67,161.68 L179.73,161.23 L180.79,160.79 L181.86,160.34 L182.93,159.90 L184.01,159.45 L185.09,159.01 L186.17,158.56 L187.26,158.12 L188.36,157.67 L189.46,157.23 L190.56,156.79 L191.67,156.34 L192.78,155.90 L193.89,155.46 L195.01,155.02 L196.14,154.57 L197.27,154.13 L198.40,153.69 L199.54,153.25 L200.68,152.81 L201.83,152.37 L202.98,151.93 L204.13,151.49 L205.29,151.05 L206.45,150.62 L207.62,150.18 L208.79,149.74 L209.97,149.31 L211.15,148.87 L212.34,148.43 L213.53,148.00 L214.72,147.57 L215.92,147.13 L217.12,146.70 L218.33,146.27 L219.54,145.84 L220.76,145.41 L221.98,144.98 L223.21,144.55 L224.43,144.13 L225.67,143.70 L226.91,143.27 L228.15,142.85 L229.40,142.42 L230.65,142.00 L231.90,141.58 L233.16,141.16 L234.43,140.74 L235.69,140.32 L236.97,139.90 L238.24,139.48 L239.53,139.07 L240.81,138.65 L242.10,138.24 L243.40,137.82 L244.70,137.41 L246.00,137.00" stroke="#3c3ca4" stroke-width="1.5"/>
<path d="M50.80,234.50 L50.80,234.11 L50.81,233.71 L50.82,233.31 L50.83,232.90 L50.85,232.50 L50.88,232.08 L50.91,231.67 L50.94,231.25 L50.98,230.83 L51.02,230.41 L51.06,229.99 L51.11,229.56 L51.17,229.13 L51.23,228.70 L51.29,228.26 L51.36,227.83 L51.43,227.39 L51.51,226.95 L51.59,226.51 L51.67,226.06 L51.76,225.62 L51.86,225.17 L51.96,224.73 L52.06,224.28 L52.16,223.83 L52.28,223.38 L52.39,222.93 L52.51,222.48 L52.64,222.02 L52.77,221.57 L52.90,221.12 L53.04,220.67 L53.18,220.21 L53.32,219.76 L53.47,219.31 L53.63,218.86 L53.79,218.40 L53.95,217.95 L54.12,217.50 L54.29,217.05 L54.47,216.60 L54.65,216.15 L54.84,215.71 L55.03,215.26 L55.22,214.82 L55.42,214.37 L55.62,213.93 L55.83,213.49 L56.04,213.05 L56.26,212.62 L56.48,212.18 L56.70,211.75 L56.93,211.32 L57.17,210.89 L57.40,210.46 L57.65,210.04 L57.89,209.62 L58.15,209.20 L58.40,208.79 L58.66,208.38 L58.92,207.97 L59.19,207.56 L59.47,207.16 L59.74,206.76 L60.02,206.37 L60.31,205.98 L60.60,205.59 L60.90,205.21 L61.20,204.83 L61.50,204.45 L61.81,204.08 L62.12,203.71 L62.44,203.35 L62.76,202.99 L63.08,202.64 L63.41,202.29 L63.75,201.94 L64.08,201.60 L64.43,201.26 L64.77,200.92 L65.13,200.59 L65.48,200.27 L65.84,199.94 L66.21,199.62 L66.58,199.30 L66.95,198.99 L67.33,198.68 L67.71,198.37 L68.09,198.07 L68.49,197.76 L68.88,197.47 L69.28,197.17 L69.68,196.88 L70.09,196.59 L70.51,196.30 L70.92,196.02 L71.34,195.74 L71.77,195.46 L72.20,195.18 L72.63,194.91 L73.07,194.63 L73.52,194.36 L73.96,194.10 L74.42,193.83 L74.87,193.57 L75.33,193.31 L75.80,193.05 L76.27,192.79 L76.74,192.54 L77.22,192.28 L77.70,192.03 L78.19,191.78 L78.68,191.53 L79.18,191.28 L79.68,191.04 L80.18,190.79 L80.69,190.55 L81.20,190.31 L81.72,190.07 L82.24,189.83 L82.77,189.59 L83.30,189.35 L83.83,189.12 L84.37,188.88 L84.92,188.64 L85.46,188.41 L86.02,188.18 L86.57,187.94 L87.13,187.71 L87.70,187.48 L88.27,187.25 L88.84,187.02 L89.42,186.78 L90.01,186.55 L90.59,186.32 L91.18,186.09 L91.78,185.86 L92.38,185.63 L92.99,185.40 L93.60,185.17 L94.21,184.94 L94.83,184.71 L95.45,184.48 L96.08,184.25 L96.71,184.02 L97.34,183.79 L97.98,183.56 L98.63,183.33 L99.27,183.10 L99.93,182.87 L100.58,182.63 L101.25,182.40 L101.91,182.17 L102.58,181.93 L103.26,181.70 L103.94,181.46 L104.62,181.23 L105.31,180.99 L106.00,180.75 L106.70,180.51 L107.40,180.28 L108.10,180.04 L108.81,179.79 L109.53,179.55 L110.24,179.31 L110.97,179.07 L111.69,178.82 L112.42,178.57 L113.16,178.33 L113.90,178.08 L114.65,177.83 L115.39,177.58 L116.15,177.32 L116.91,177.07 L117.67,176.81 L118.43,176.56 L119.20,176.30 L119.98,176.04 L120.76,175.77 L121.54,175.51 L122.33,175.25 L123.12,174.98 L123.92,174.71 L124.72,174.44 L125.53,174.17 L126.34,173.89 L127.15,173.61 L127.97,173.34 L128.79,173.06 L129.62,172.77 L130.45,172.49 L131.29,172.20 L132.13,171.91 L132.98,171.62 L133.82,171.33 L134.68,171.03 L135.54,170.73 L136.40,170.43 L137.27,170.13 L138.14,169.82 L139.01,169.51 L139.89,169.20 L140.78,168.89 L141.67,168.57 L142.56,168.25 L143.46,167.93 L144.36,167.61 L145.26,167.28 L146.17,166.95 L147.09,166.61 L148.01,166.28 L148.93,165.94 L149.86,165.60 L150.79,165.25 L151.73,164.90 L152.67,164.55 L153.62,164.19 L154.56,163.83 L155.52,163.47 L156.48,163.11 L157.44,162.74 L158.41,162.37 L159.38,161.99 L160.36,161.61 L161.34,161.23 L162.32,160.84 L163.31,160.45 L164.30,160.06 L165.30,159.66 L166.30,159.26 L167.31,158.85 L168.32,158.45 L169.34,158.03 L170.36,157.62 L171.38,157.19 L172.41,156.77 L173.44,156.34 L174.48,155.91 L175.52,155.47 L176.57,155.03 L177.62,154.58 L178.67,154.13 L179.73,153.68 L180.79,153.22 L181.86,152.75 L182.93,152.29 L184.01,151.81 L185.09,151.34 L186.17,150.86 L187.26,150.37 L188.36,149.88 L189.46,149.38 L190.56,148.88 L191.67,148.38 L192.78,147.87 L193.89,147.35 L195.01,146.83 L196.14,146.31 L197.27,145.78 L198.40,145.24 L199.54,144.70 L200.68,144.16 L201.83,143.61 L202.98,143.05 L204.13,142.49 L205.29,141.92 L206.45,141.35 L207.62,140.78 L208.79,140.19 L209.97,139.60 L211.15,139.01 L212.34,138.41 L213.53,137.81 L214.72,137.20 L215.92,136.58 L217.12,135.96 L218.33,135.33 L219.54,134.70 L220.76,134.06 L221.98,133.41 L223.21,132.76 L224.43,132.10 L225.67,131.44 L226.91,130.77 L228.15,130.10 L229.40,129.41 L230.65,128.73 L231.90,128.03 L233.16,127.33 L234.43,126.62 L235.69,125.91 L236.97,125.19 L238.24,124.46 L239.53,123.73 L240.81,122.99 L242.10,122.25 L243.40,121.49 L244.70,120.74 L246.00,119.97" stroke="#8a14e0" stroke-width="1.9" stroke-dasharray="7.5 6.5"/>
<path d="M50.80,234.50 L50.80,234.37 L50.81,234.24 L50.82,234.09 L50.83,233.94 L50.85,233.77 L50.88,233.60 L50.91,233.42 L50.94,233.23 L50.98,233.03 L51.02,232.82 L51.06,232.61 L51.11,232.38 L51.17,232.15 L51.23,231.91 L51.29,231.67 L51.36,231.41 L51.43,231.15 L51.51,230.88 L51.59,230.60 L51.67,230.32 L51.76,230.03 L51.86,229.73 L51.96,229.43 L52.06,229.11 L52.16,228.80 L52.28,228.47 L52.39,228.14 L52.51,227.80 L52.64,227.46 L52.77,227.11 L52.90,226.75 L53.04,226.39 L53.18,226.02 L53.32,225.65 L53.47,225.27 L53.63,224.89 L53.79,224.50 L53.95,224.10 L54.12,223.71 L54.29,223.30 L54.47,222.89 L54.65,222.48 L54.84,222.06 L55.03,221.64 L55.22,221.21 L55.42,220.78 L55.62,220.34 L55.83,219.91 L56.04,219.46 L56.26,219.02 L56.48,218.56 L56.70,218.11 L56.93,217.65 L57.17,217.19 L57.40,216.73 L57.65,216.26 L57.89,215.79 L58.15,215.32 L58.40,214.84 L58.66,214.36 L58.92,213.88 L59.19,213.40 L59.47,212.91 L59.74,212.43 L60.02,211.94 L60.31,211.44 L60.60,210.95 L60.90,210.46 L61.20,209.96 L61.50,209.46 L61.81,208.96 L62.12,208.46 L62.44,207.96 L62.76,207.46 L63.08,206.95 L63.41,206.45 L63.75,205.94 L64.08,205.44 L64.43,204.93 L64.77,204.42 L65.13,203.92 L65.48,203.41 L65.84,202.90 L66.21,202.39 L66.58,201.89 L66.95,201.38 L67.33,200.88 L67.71,200.37 L68.09,199.87 L68.49,199.36 L68.88,198.86 L69.28,198.36 L69.68,197.86 L70.09,197.36 L70.51,196.86 L70.92,196.36 L71.34,195.87 L71.77,195.38 L72.20,194.88 L72.63,194.39 L73.07,193.91 L73.52,193.42 L73.96,192.94 L74.42,192.46 L74.87,191.98 L75.33,191.51 L75.80,191.03 L76.27,190.57 L76.74,190.10 L77.22,189.63 L77.70,189.17 L78.19,188.72 L78.68,188.26 L79.18,187.81 L79.68,187.36 L80.18,186.91 L80.69,186.46 L81.20,186.02 L81.72,185.58 L82.24,185.14 L82.77,184.70 L83.30,184.27 L83.83,183.84 L84.37,183.41 L84.92,182.98 L85.46,182.55 L86.02,182.13 L86.57,181.70 L87.13,181.28 L87.70,180.86 L88.27,180.44 L88.84,180.03 L89.42,179.61 L90.01,179.20 L90.59,178.78 L91.18,178.37 L91.78,177.96 L92.38,177.55 L92.99,177.14 L93.60,176.74 L94.21,176.33 L94.83,175.92 L95.45,175.52 L96.08,175.11 L96.71,174.71 L97.34,174.31 L97.98,173.91 L98.63,173.51 L99.27,173.10 L99.93,172.70 L100.58,172.30 L101.25,171.90 L101.91,171.50 L102.58,171.10 L103.26,170.70 L103.94,170.30 L104.62,169.90 L105.31,169.50 L106.00,169.10 L106.70,168.70 L107.40,168.30 L108.10,167.90 L108.81,167.50 L109.53,167.10 L110.24,166.69 L110.97,166.29 L111.69,165.89 L112.42,165.48 L113.16,165.08 L113.90,164.67 L114.65,164.26 L115.39,163.86 L116.15,163.45 L116.91,163.04 L117.67,162.62 L118.43,162.21 L119.20,161.80 L119.98,161.38 L120.76,160.97 L121.54,160.55 L122.33,160.13 L123.12,159.71 L123.92,159.29 L124.72,158.86 L125.53,158.44 L126.34,158.01 L127.15,157.59 L127.97,157.16 L128.79,156.73 L129.62,156.30 L130.45,155.88 L131.29,155.45 L132.13,155.01 L132.98,154.58 L133.82,154.15 L134.68,153.72 L135.54,153.29 L136.40,152.85 L137.27,152.42 L138.14,151.99 L139.01,151.55 L139.89,151.12 L140.78,150.69 L141.67,150.25 L142.56,149.82 L143.46,149.39 L144.36,148.95 L145.26,148.52 L146.17,148.09 L147.09,147.65 L148.01,147.22 L148.93,146.79 L149.86,146.36 L150.79,145.93 L151.73,145.50 L152.67,145.07 L153.62,144.64 L154.56,144.21 L155.52,143.78 L156.48,143.35 L157.44,142.92 L158.41,142.50 L159.38,142.07 L160.36,141.64 L161.34,141.22 L162.32,140.79 L163.31,140.36 L164.30,139.94 L165.30,139.51 L166.30,139.09 L167.31,138.67 L168.32,138.24 L169.34,137.82 L170.36,137.39 L171.38,136.97 L172.41,136.55 L173.44,136.13 L174.48,135.70 L175.52,135.28 L176.57,134.86 L177.62,134.44 L178.67,134.02 L179.73,133.60 L180.79,133.18 L181.86,132.76 L182.93,132.34 L184.01,131.92 L185.09,131.50 L186.17,131.08 L187.26,130.66 L188.36,130.24 L189.46,129.82 L190.56,129.40 L191.67,128.98 L192.78,128.56 L193.89,128.15 L195.01,127.73 L196.14,127.31 L197.27,126.89 L198.40,126.48 L199.54,126.06 L200.68,125.64 L201.83,125.22 L202.98,124.81 L204.13,124.39 L205.29,123.97 L206.45,123.56 L207.62,123.14 L208.79,122.72 L209.97,122.31 L211.15,121.89 L212.34,121.48 L213.53,121.06 L214.72,120.64 L215.92,120.23 L217.12,119.81 L218.33,119.40 L219.54,118.98 L220.76,118.57 L221.98,118.15 L223.21,117.73 L224.43,117.32 L225.67,116.90 L226.91,116.49 L228.15,116.07 L229.40,115.66 L230.65,115.24 L231.90,114.83 L233.16,114.41 L234.43,113.99 L235.69,113.58 L236.97,113.16 L238.24,112.75 L239.53,112.33 L240.81,111.92 L242.10,111.50 L243.40,111.08 L244.70,110.67 L246.00,110.25" stroke="#22c0cc" stroke-width="1.5"/>
<path d="M50.80,234.50 L50.80,233.79 L50.81,233.05 L50.82,232.27 L50.83,231.45 L50.85,230.61 L50.88,229.73 L50.91,228.81 L50.94,227.87 L50.98,226.90 L51.02,225.91 L51.06,224.89 L51.11,223.84 L51.17,222.77 L51.23,221.67 L51.29,220.56 L51.36,219.43 L51.43,218.27 L51.51,217.11 L51.59,215.92 L51.67,214.72 L51.76,213.51 L51.86,212.28 L51.96,211.04 L52.06,209.80 L52.16,208.54 L52.28,207.28 L52.39,206.01 L52.51,204.74 L52.64,203.46 L52.77,202.18 L52.90,200.90 L53.04,199.62 L53.18,198.34 L53.32,197.07 L53.47,195.79 L53.63,194.53 L53.79,193.27 L53.95,192.01 L54.12,190.77 L54.29,189.53 L54.47,188.30 L54.65,187.08 L54.84,185.88 L55.03,184.68 L55.22,183.50 L55.42,182.33 L55.62,181.18 L55.83,180.04 L56.04,178.91 L56.26,177.81 L56.48,176.72 L56.70,175.65 L56.93,174.60 L57.17,173.57 L57.40,172.56 L57.65,171.57 L57.89,170.60 L58.15,169.66 L58.40,168.74 L58.66,167.85 L58.92,166.98 L59.19,166.14 L59.47,165.33 L59.74,164.54 L60.02,163.78 L60.31,163.04 L60.60,162.33 L60.90,161.64 L61.20,160.97 L61.50,160.33 L61.81,159.70 L62.12,159.10 L62.44,158.52 L62.76,157.95 L63.08,157.41 L63.41,156.88 L63.75,156.38 L64.08,155.88 L64.43,155.41 L64.77,154.95 L65.13,154.50 L65.48,154.07 L65.84,153.66 L66.21,153.25 L66.58,152.86 L66.95,152.48 L67.33,152.11 L67.71,151.76 L68.09,151.41 L68.49,151.07 L68.88,150.74 L69.28,150.42 L69.68,150.10 L70.09,149.80 L70.51,149.49 L70.92,149.20 L71.34,148.91 L71.77,148.62 L72.20,148.33 L72.63,148.05 L73.07,147.77 L73.52,147.50 L73.96,147.22 L74.42,146.94 L74.87,146.67 L75.33,146.39 L75.80,146.11 L76.27,145.83 L76.74,145.55 L77.22,145.26 L77.70,144.97 L78.19,144.69 L78.68,144.39 L79.18,144.10 L79.68,143.81 L80.18,143.51 L80.69,143.21 L81.20,142.91 L81.72,142.61 L82.24,142.31 L82.77,142.00 L83.30,141.70 L83.83,141.39 L84.37,141.08 L84.92,140.77 L85.46,140.46 L86.02,140.14 L86.57,139.83 L87.13,139.51 L87.70,139.19 L88.27,138.87 L88.84,138.55 L89.42,138.23 L90.01,137.90 L90.59,137.58 L91.18,137.25 L91.78,136.92 L92.38,136.59 L92.99,136.26 L93.60,135.93 L94.21,135.60 L94.83,135.27 L95.45,134.93 L96.08,134.60 L96.71,134.26 L97.34,133.92 L97.98,133.58 L98.63,133.24 L99.27,132.90 L99.93,132.56 L100.58,132.22 L101.25,131.87 L101.91,131.53 L102.58,131.18 L103.26,130.84 L103.94,130.49 L104.62,130.14 L105.31,129.80 L106.00,129.45 L106.70,129.10 L107.40,128.75 L108.10,128.40 L108.81,128.05 L109.53,127.70 L110.24,127.34 L110.97,126.99 L111.69,126.64 L112.42,126.28 L113.16,125.93 L113.90,125.58 L114.65,125.22 L115.39,124.87 L116.15,124.51 L116.91,124.16 L117.67,123.80 L118.43,123.44 L119.20,123.09 L119.98,122.73 L120.76,122.37 L121.54,122.02 L122.33,121.66 L123.12,121.30 L123.92,120.95 L124.72,120.59 L125.53,120.23 L126.34,119.88 L127.15,119.52 L127.97,119.16 L128.79,118.81 L129.62,118.45 L130.45,118.09 L131.29,117.74 L132.13,117.38 L132.98,117.03 L133.82,116.67 L134.68,116.31 L135.54,115.96 L136.40,115.61 L137.27,115.25 L138.14,114.90 L139.01,114.54 L139.89,114.19 L140.78,113.84 L141.67,113.49 L142.56,113.14 L143.46,112.78 L144.36,112.43 L145.26,112.08 L146.17,111.74 L147.09,111.39 L148.01,111.04 L148.93,110.69 L149.86,110.35 L150.79,110.00 L151.73,109.66 L152.67,109.31 L153.62,108.97 L154.56,108.62 L155.52,108.28 L156.48,107.94 L157.44,107.60 L158.41,107.26 L159.38,106.92 L160.36,106.58 L161.34,106.24 L162.32,105.90 L163.31,105.56 L164.30,105.23 L165.30,104.89 L166.30,104.55 L167.31,104.22 L168.32,103.88 L169.34,103.55 L170.36,103.21 L171.38,102.88 L172.41,102.54 L173.44,102.21 L174.48,101.88 L175.52,101.54 L176.57,101.21 L177.62,100.88 L178.67,100.55 L179.73,100.21 L180.79,99.88 L181.86,99.55 L182.93,99.22 L184.01,98.89 L185.09,98.56 L186.17,98.23 L187.26,97.90 L188.36,97.57 L189.46,97.24 L190.56,96.91 L191.67,96.58 L192.78,96.25 L193.89,95.92 L195.01,95.59 L196.14,95.27 L197.27,94.94 L198.40,94.61 L199.54,94.28 L200.68,93.95 L201.83,93.62 L202.98,93.29 L204.13,92.97 L205.29,92.64 L206.45,92.31 L207.62,91.98 L208.79,91.65 L209.97,91.32 L211.15,90.99 L212.34,90.66 L213.53,90.34 L214.72,90.01 L215.92,89.68 L217.12,89.35 L218.33,89.02 L219.54,88.69 L220.76,88.36 L221.98,88.03 L223.21,87.70 L224.43,87.37 L225.67,87.04 L226.91,86.71 L228.15,86.37 L229.40,86.04 L230.65,85.71 L231.90,85.38 L233.16,85.05 L234.43,84.71 L235.69,84.38 L236.97,84.05 L238.24,83.71 L239.53,83.38 L240.81,83.04 L242.10,82.71 L243.40,82.37 L244.70,82.04 L246.00,81.70" stroke="#c8288c" stroke-width="1.7"/>
<path d="M50.80,234.50 L50.80,233.38 L50.81,232.26 L50.82,231.13 L50.83,230.00 L50.85,228.87 L50.88,227.73 L50.91,226.59 L50.94,225.45 L50.98,224.30 L51.02,223.15 L51.06,222.00 L51.11,220.86 L51.17,219.71 L51.23,218.56 L51.29,217.41 L51.36,216.26 L51.43,215.11 L51.51,213.97 L51.59,212.82 L51.67,211.68 L51.76,210.55 L51.86,209.41 L51.96,208.28 L52.06,207.16 L52.16,206.03 L52.28,204.92 L52.39,203.81 L52.51,202.70 L52.64,201.60 L52.77,200.51 L52.90,199.43 L53.04,198.35 L53.18,197.28 L53.32,196.22 L53.47,195.17 L53.63,194.13 L53.79,193.10 L53.95,192.08 L54.12,191.07 L54.29,190.07 L54.47,189.08 L54.65,188.10 L54.84,187.14 L55.03,186.19 L55.22,185.25 L55.42,184.32 L55.62,183.41 L55.83,182.51 L56.04,181.63 L56.26,180.76 L56.48,179.91 L56.70,179.08 L56.93,178.25 L57.17,177.45 L57.40,176.66 L57.65,175.88 L57.89,175.13 L58.15,174.38 L58.40,173.66 L58.66,172.95 L58.92,172.26 L59.19,171.58 L59.47,170.92 L59.74,170.28 L60.02,169.65 L60.31,169.03 L60.60,168.43 L60.90,167.85 L61.20,167.27 L61.50,166.71 L61.81,166.17 L62.12,165.64 L62.44,165.12 L62.76,164.61 L63.08,164.12 L63.41,163.63 L63.75,163.16 L64.08,162.70 L64.43,162.25 L64.77,161.81 L65.13,161.39 L65.48,160.97 L65.84,160.56 L66.21,160.16 L66.58,159.77 L66.95,159.39 L67.33,159.02 L67.71,158.66 L68.09,158.30 L68.49,157.95 L68.88,157.61 L69.28,157.28 L69.68,156.96 L70.09,156.64 L70.51,156.33 L70.92,156.02 L71.34,155.72 L71.77,155.43 L72.20,155.14 L72.63,154.85 L73.07,154.57 L73.52,154.30 L73.96,154.03 L74.42,153.76 L74.87,153.50 L75.33,153.23 L75.80,152.98 L76.27,152.72 L76.74,152.47 L77.22,152.22 L77.70,151.97 L78.19,151.73 L78.68,151.48 L79.18,151.24 L79.68,150.99 L80.18,150.75 L80.69,150.51 L81.20,150.26 L81.72,150.02 L82.24,149.78 L82.77,149.53 L83.30,149.28 L83.83,149.04 L84.37,148.79 L84.92,148.53 L85.46,148.28 L86.02,148.03 L86.57,147.77 L87.13,147.51 L87.70,147.25 L88.27,146.98 L88.84,146.72 L89.42,146.45 L90.01,146.18 L90.59,145.91 L91.18,145.63 L91.78,145.36 L92.38,145.08 L92.99,144.80 L93.60,144.52 L94.21,144.23 L94.83,143.95 L95.45,143.66 L96.08,143.37 L96.71,143.07 L97.34,142.78 L97.98,142.48 L98.63,142.18 L99.27,141.88 L99.93,141.58 L100.58,141.27 L101.25,140.96 L101.91,140.65 L102.58,140.34 L103.26,140.02 L103.94,139.70 L104.62,139.38 L105.31,139.06 L106.00,138.74 L106.70,138.41 L107.40,138.08 L108.10,137.75 L108.81,137.42 L109.53,137.08 L110.24,136.74 L110.97,136.40 L111.69,136.06 L112.42,135.71 L113.16,135.36 L113.90,135.01 L114.65,134.66 L115.39,134.30 L116.15,133.95 L116.91,133.58 L117.67,133.22 L118.43,132.86 L119.20,132.49 L119.98,132.12 L120.76,131.74 L121.54,131.37 L122.33,130.99 L123.12,130.61 L123.92,130.23 L124.72,129.84 L125.53,129.45 L126.34,129.06 L127.15,128.67 L127.97,128.27 L128.79,127.87 L129.62,127.47 L130.45,127.06 L131.29,126.66 L132.13,126.25 L132.98,125.83 L133.82,125.42 L134.68,125.00 L135.54,124.58 L136.40,124.16 L137.27,123.73 L138.14,123.30 L139.01,122.87 L139.89,122.44 L140.78,122.00 L141.67,121.56 L142.56,121.11 L143.46,120.67 L144.36,120.22 L145.26,119.77 L146.17,119.31 L147.09,118.86 L148.01,118.40 L148.93,117.93 L149.86,117.47 L150.79,117.00 L151.73,116.53 L152.67,116.05 L153.62,115.58 L154.56,115.10 L155.52,114.62 L156.48,114.13 L157.44,113.64 L158.41,113.16 L159.38,112.67 L160.36,112.17 L161.34,111.68 L162.32,111.18 L163.31,110.68 L164.30,110.18 L165.30,109.68 L166.30,109.17 L167.31,108.67 L168.32,108.16 L169.34,107.65 L170.36,107.14 L171.38,106.63 L172.41,106.12 L173.44,105.60 L174.48,105.09 L175.52,104.57 L176.57,104.05 L177.62,103.53 L178.67,103.01 L179.73,102.49 L180.79,101.97 L181.86,101.45 L182.93,100.92 L184.01,100.40 L185.09,99.88 L186.17,99.35 L187.26,98.83 L188.36,98.30 L189.46,97.78 L190.56,97.25 L191.67,96.72 L192.78,96.20 L193.89,95.67 L195.01,95.14 L196.14,94.62 L197.27,94.09 L198.40,93.57 L199.54,93.04 L200.68,92.52 L201.83,91.99 L202.98,91.47 L204.13,90.94 L205.29,90.41 L206.45,89.89 L207.62,89.36 L208.79,88.83 L209.97,88.29 L211.15,87.76 L212.34,87.22 L213.53,86.68 L214.72,86.14 L215.92,85.59 L217.12,85.04 L218.33,84.48 L219.54,83.92 L220.76,83.36 L221.98,82.79 L223.21,82.21 L224.43,81.63 L225.67,81.04 L226.91,80.45 L228.15,79.84 L229.40,79.23 L230.65,78.62 L231.90,77.99 L233.16,77.36 L234.43,76.72 L235.69,76.07 L236.97,75.41 L238.24,74.75 L239.53,74.07 L240.81,73.38 L242.10,72.68 L243.40,71.97 L244.70,71.25 L246.00,70.52" stroke="#8020b0" stroke-width="1.9" stroke-dasharray="7.5 6.5"/>
<path d="M50.80,234.50 L50.80,234.35 L50.81,234.06 L50.82,233.62 L50.83,233.04 L50.85,232.33 L50.88,231.49 L50.91,230.53 L50.94,229.45 L50.98,228.25 L51.02,226.94 L51.06,225.54 L51.11,224.03 L51.17,222.43 L51.23,220.74 L51.29,218.96 L51.36,217.11 L51.43,215.18 L51.51,213.19 L51.59,211.13 L51.67,209.01 L51.76,206.83 L51.86,204.61 L51.96,202.34 L52.06,200.04 L52.16,197.70 L52.28,195.33 L52.39,192.93 L52.51,190.52 L52.64,188.09 L52.77,185.65 L52.90,183.21 L53.04,180.77 L53.18,178.33 L53.32,175.91 L53.47,173.50 L53.63,171.11 L53.79,168.74 L53.95,166.41 L54.12,164.11 L54.29,161.85 L54.47,159.64 L54.65,157.47 L54.84,155.36 L55.03,153.32 L55.22,151.33 L55.42,149.42 L55.62,147.58 L55.83,145.82 L56.04,144.13 L56.26,142.50 L56.48,140.95 L56.70,139.45 L56.93,138.02 L57.17,136.65 L57.40,135.32 L57.65,134.05 L57.89,132.83 L58.15,131.65 L58.40,130.52 L58.66,129.42 L58.92,128.36 L59.19,127.34 L59.47,126.34 L59.74,125.38 L60.02,124.45 L60.31,123.55 L60.60,122.69 L60.90,121.85 L61.20,121.04 L61.50,120.26 L61.81,119.50 L62.12,118.77 L62.44,118.07 L62.76,117.40 L63.08,116.75 L63.41,116.13 L63.75,115.53 L64.08,114.95 L64.43,114.40 L64.77,113.86 L65.13,113.35 L65.48,112.86 L65.84,112.39 L66.21,111.94 L66.58,111.51 L66.95,111.10 L67.33,110.70 L67.71,110.33 L68.09,109.97 L68.49,109.62 L68.88,109.29 L69.28,108.97 L69.68,108.67 L70.09,108.38 L70.51,108.11 L70.92,107.85 L71.34,107.59 L71.77,107.35 L72.20,107.12 L72.63,106.90 L73.07,106.69 L73.52,106.48 L73.96,106.29 L74.42,106.10 L74.87,105.91 L75.33,105.74 L75.80,105.56 L76.27,105.40 L76.74,105.23 L77.22,105.07 L77.70,104.92 L78.19,104.76 L78.68,104.61 L79.18,104.45 L79.68,104.30 L80.18,104.15 L80.69,103.99 L81.20,103.84 L81.72,103.68 L82.24,103.52 L82.77,103.35 L83.30,103.19 L83.83,103.02 L84.37,102.84 L84.92,102.67 L85.46,102.49 L86.02,102.31 L86.57,102.13 L87.13,101.94 L87.70,101.75 L88.27,101.56 L88.84,101.37 L89.42,101.17 L90.01,100.97 L90.59,100.77 L91.18,100.57 L91.78,100.36 L92.38,100.15 L92.99,99.94 L93.60,99.73 L94.21,99.51 L94.83,99.29 L95.45,99.07 L96.08,98.85 L96.71,98.63 L97.34,98.40 L97.98,98.17 L98.63,97.94 L99.27,97.71 L99.93,97.47 L100.58,97.24 L101.25,97.00 L101.91,96.76 L102.58,96.52 L103.26,96.27 L103.94,96.03 L104.62,95.78 L105.31,95.53 L106.00,95.28 L106.70,95.02 L107.40,94.77 L108.10,94.51 L108.81,94.25 L109.53,94.00 L110.24,93.73 L110.97,93.47 L111.69,93.21 L112.42,92.94 L113.16,92.68 L113.90,92.41 L114.65,92.14 L115.39,91.87 L116.15,91.59 L116.91,91.32 L117.67,91.05 L118.43,90.77 L119.20,90.49 L119.98,90.21 L120.76,89.93 L121.54,89.65 L122.33,89.37 L123.12,89.09 L123.92,88.81 L124.72,88.52 L125.53,88.24 L126.34,87.95 L127.15,87.66 L127.97,87.37 L128.79,87.09 L129.62,86.80 L130.45,86.51 L131.29,86.21 L132.13,85.92 L132.98,85.63 L133.82,85.34 L134.68,85.04 L135.54,84.75 L136.40,84.45 L137.27,84.16 L138.14,83.86 L139.01,83.57 L139.89,83.27 L140.78,82.97 L141.67,82.68 L142.56,82.38 L143.46,82.08 L144.36,81.78 L145.26,81.48 L146.17,81.19 L147.09,80.89 L148.01,80.59 L148.93,80.29 L149.86,79.99 L150.79,79.69 L151.73,79.39 L152.67,79.09 L153.62,78.79 L154.56,78.49 L155.52,78.20 L156.48,77.90 L157.44,77.60 L158.41,77.30 L159.38,77.00 L160.36,76.70 L161.34,76.41 L162.32,76.11 L163.31,75.81 L164.30,75.52 L165.30,75.22 L166.30,74.92 L167.31,74.63 L168.32,74.34 L169.34,74.04 L170.36,73.75 L171.38,73.45 L172.41,73.16 L173.44,72.87 L174.48,72.58 L175.52,72.29 L176.57,72.00 L177.62,71.71 L178.67,71.42 L179.73,71.14 L180.79,70.85 L181.86,70.57 L182.93,70.28 L184.01,70.00 L185.09,69.72 L186.17,69.43 L187.26,69.15 L188.36,68.88 L189.46,68.60 L190.56,68.32 L191.67,68.05 L192.78,67.77 L193.89,67.50 L195.01,67.23 L196.14,66.96 L197.27,66.69 L198.40,66.42 L199.54,66.15 L200.68,65.89 L201.83,65.62 L202.98,65.36 L204.13,65.10 L205.29,64.84 L206.45,64.58 L207.62,64.33 L208.79,64.07 L209.97,63.82 L211.15,63.57 L212.34,63.32 L213.53,63.07 L214.72,62.83 L215.92,62.59 L217.12,62.34 L218.33,62.10 L219.54,61.87 L220.76,61.63 L221.98,61.40 L223.21,61.16 L224.43,60.93 L225.67,60.71 L226.91,60.48 L228.15,60.26 L229.40,60.04 L230.65,59.82 L231.90,59.60 L233.16,59.38 L234.43,59.17 L235.69,58.96 L236.97,58.75 L238.24,58.55 L239.53,58.34 L240.81,58.14 L242.10,57.95 L243.40,57.75 L244.70,57.56 L246.00,57.37" stroke="#22c822" stroke-width="2.0"/>
<path d="M50.80,234.50 L50.80,234.84 L50.81,234.98 L50.82,234.94 L50.83,234.71 L50.85,234.32 L50.88,233.76 L50.91,233.04 L50.94,232.16 L50.98,231.15 L51.02,229.99 L51.06,228.71 L51.11,227.30 L51.17,225.78 L51.23,224.15 L51.29,222.41 L51.36,220.58 L51.43,218.66 L51.51,216.66 L51.59,214.59 L51.67,212.44 L51.76,210.24 L51.86,207.99 L51.96,205.69 L52.06,203.35 L52.16,200.98 L52.28,198.58 L52.39,196.17 L52.51,193.74 L52.64,191.32 L52.77,188.89 L52.90,186.48 L53.04,184.08 L53.18,181.71 L53.32,179.36 L53.47,177.06 L53.63,174.80 L53.79,172.60 L53.95,170.45 L54.12,168.38 L54.29,166.37 L54.47,164.44 L54.65,162.58 L54.84,160.78 L55.03,159.05 L55.22,157.37 L55.42,155.74 L55.62,154.15 L55.83,152.61 L56.04,151.11 L56.26,149.63 L56.48,148.19 L56.70,146.77 L56.93,145.38 L57.17,144.01 L57.40,142.67 L57.65,141.36 L57.89,140.08 L58.15,138.83 L58.40,137.60 L58.66,136.40 L58.92,135.23 L59.19,134.09 L59.47,132.98 L59.74,131.89 L60.02,130.84 L60.31,129.81 L60.60,128.82 L60.90,127.86 L61.20,126.92 L61.50,126.02 L61.81,125.14 L62.12,124.29 L62.44,123.47 L62.76,122.68 L63.08,121.91 L63.41,121.17 L63.75,120.45 L64.08,119.76 L64.43,119.09 L64.77,118.44 L65.13,117.81 L65.48,117.20 L65.84,116.62 L66.21,116.05 L66.58,115.50 L66.95,114.96 L67.33,114.45 L67.71,113.95 L68.09,113.46 L68.49,112.99 L68.88,112.53 L69.28,112.09 L69.68,111.66 L70.09,111.24 L70.51,110.83 L70.92,110.43 L71.34,110.03 L71.77,109.65 L72.20,109.27 L72.63,108.90 L73.07,108.54 L73.52,108.18 L73.96,107.83 L74.42,107.48 L74.87,107.13 L75.33,106.78 L75.80,106.44 L76.27,106.10 L76.74,105.75 L77.22,105.41 L77.70,105.07 L78.19,104.73 L78.68,104.39 L79.18,104.06 L79.68,103.72 L80.18,103.39 L80.69,103.05 L81.20,102.72 L81.72,102.39 L82.24,102.06 L82.77,101.73 L83.30,101.40 L83.83,101.07 L84.37,100.74 L84.92,100.41 L85.46,100.09 L86.02,99.76 L86.57,99.44 L87.13,99.11 L87.70,98.79 L88.27,98.47 L88.84,98.14 L89.42,97.82 L90.01,97.50 L90.59,97.18 L91.18,96.86 L91.78,96.54 L92.38,96.22 L92.99,95.91 L93.60,95.59 L94.21,95.27 L94.83,94.96 L95.45,94.64 L96.08,94.32 L96.71,94.01 L97.34,93.69 L97.98,93.38 L98.63,93.07 L99.27,92.75 L99.93,92.44 L100.58,92.13 L101.25,91.81 L101.91,91.50 L102.58,91.19 L103.26,90.88 L103.94,90.57 L104.62,90.25 L105.31,89.94 L106.00,89.63 L106.70,89.32 L107.40,89.01 L108.10,88.70 L108.81,88.39 L109.53,88.07 L110.24,87.76 L110.97,87.45 L111.69,87.14 L112.42,86.83 L113.16,86.52 L113.90,86.21 L114.65,85.90 L115.39,85.58 L116.15,85.27 L116.91,84.96 L117.67,84.65 L118.43,84.33 L119.20,84.02 L119.98,83.71 L120.76,83.39 L121.54,83.08 L122.33,82.76 L123.12,82.45 L123.92,82.13 L124.72,81.82 L125.53,81.50 L126.34,81.19 L127.15,80.87 L127.97,80.55 L128.79,80.23 L129.62,79.91 L130.45,79.59 L131.29,79.27 L132.13,78.95 L132.98,78.63 L133.82,78.31 L134.68,77.98 L135.54,77.66 L136.40,77.33 L137.27,77.01 L138.14,76.68 L139.01,76.35 L139.89,76.03 L140.78,75.70 L141.67,75.37 L142.56,75.04 L143.46,74.70 L144.36,74.37 L145.26,74.04 L146.17,73.70 L147.09,73.36 L148.01,73.03 L148.93,72.69 L149.86,72.35 L150.79,72.01 L151.73,71.67 L152.67,71.32 L153.62,70.98 L154.56,70.63 L155.52,70.29 L156.48,69.94 L157.44,69.59 L158.41,69.24 L159.38,68.88 L160.36,68.53 L161.34,68.17 L162.32,67.82 L163.31,67.46 L164.30,67.10 L165.30,66.74 L166.30,66.38 L167.31,66.01 L168.32,65.65 L169.34,65.28 L170.36,64.91 L171.38,64.54 L172.41,64.17 L173.44,63.79 L174.48,63.42 L175.52,63.04 L176.57,62.66 L177.62,62.28 L178.67,61.89 L179.73,61.51 L180.79,61.12 L181.86,60.73 L182.93,60.34 L184.01,59.95 L185.09,59.55 L186.17,59.16 L187.26,58.76 L188.36,58.36 L189.46,57.96 L190.56,57.55 L191.67,57.14 L192.78,56.73 L193.89,56.32 L195.01,55.91 L196.14,55.49 L197.27,55.08 L198.40,54.66 L199.54,54.23 L200.68,53.81 L201.83,53.38 L202.98,52.95 L204.13,52.52 L205.29,52.09 L206.45,51.65 L207.62,51.21 L208.79,50.77 L209.97,50.32 L211.15,49.88 L212.34,49.43 L213.53,48.98 L214.72,48.52 L215.92,48.07 L217.12,47.61 L218.33,47.14 L219.54,46.68 L220.76,46.21 L221.98,45.74 L223.21,45.27 L224.43,44.79 L225.67,44.31 L226.91,43.83 L228.15,43.35 L229.40,42.86 L230.65,42.37 L231.90,41.88 L233.16,41.38 L234.43,40.88 L235.69,40.38 L236.97,39.88 L238.24,39.37 L239.53,38.86 L240.81,38.34 L242.10,37.83 L243.40,37.31 L244.70,36.78 L246.00,36.26" stroke="#a01818" stroke-width="1.9" stroke-dasharray="7.5 6.5"/>
<path d="M50.80,234.50 L50.80,234.26 L50.81,233.82 L50.82,233.20 L50.83,232.40 L50.85,231.42 L50.88,230.28 L50.91,228.99 L50.94,227.55 L50.98,225.96 L51.02,224.25 L51.06,222.41 L51.11,220.45 L51.17,218.39 L51.23,216.22 L51.29,213.96 L51.36,211.62 L51.43,209.20 L51.51,206.71 L51.59,204.15 L51.67,201.55 L51.76,198.90 L51.86,196.21 L51.96,193.49 L52.06,190.75 L52.16,187.99 L52.28,185.23 L52.39,182.47 L52.51,179.72 L52.64,176.99 L52.77,174.28 L52.90,171.61 L53.04,168.98 L53.18,166.39 L53.32,163.87 L53.47,161.41 L53.63,159.02 L53.79,156.71 L53.95,154.49 L54.12,152.36 L54.29,150.34 L54.47,148.42 L54.65,146.57 L54.84,144.78 L55.03,143.02 L55.22,141.28 L55.42,139.53 L55.62,137.76 L55.83,135.94 L56.04,134.06 L56.26,132.09 L56.48,130.03 L56.70,127.89 L56.93,125.71 L57.17,123.50 L57.40,121.29 L57.65,119.09 L57.89,116.94 L58.15,114.86 L58.40,112.86 L58.66,110.96 L58.92,109.17 L59.19,107.46 L59.47,105.85 L59.74,104.32 L60.02,102.88 L60.31,101.52 L60.60,100.24 L60.90,99.03 L61.20,97.89 L61.50,96.81 L61.81,95.81 L62.12,94.86 L62.44,93.96 L62.76,93.13 L63.08,92.34 L63.41,91.59 L63.75,90.89 L64.08,90.23 L64.43,89.61 L64.77,89.02 L65.13,88.47 L65.48,87.95 L65.84,87.46 L66.21,86.99 L66.58,86.56 L66.95,86.15 L67.33,85.76 L67.71,85.40 L68.09,85.05 L68.49,84.73 L68.88,84.42 L69.28,84.13 L69.68,83.85 L70.09,83.58 L70.51,83.33 L70.92,83.08 L71.34,82.84 L71.77,82.61 L72.20,82.38 L72.63,82.15 L73.07,81.93 L73.52,81.70 L73.96,81.47 L74.42,81.25 L74.87,81.02 L75.33,80.80 L75.80,80.58 L76.27,80.35 L76.74,80.13 L77.22,79.90 L77.70,79.68 L78.19,79.46 L78.68,79.24 L79.18,79.01 L79.68,78.79 L80.18,78.57 L80.69,78.35 L81.20,78.13 L81.72,77.91 L82.24,77.69 L82.77,77.47 L83.30,77.25 L83.83,77.03 L84.37,76.81 L84.92,76.59 L85.46,76.37 L86.02,76.15 L86.57,75.94 L87.13,75.72 L87.70,75.50 L88.27,75.28 L88.84,75.06 L89.42,74.85 L90.01,74.63 L90.59,74.41 L91.18,74.20 L91.78,73.98 L92.38,73.76 L92.99,73.55 L93.60,73.33 L94.21,73.11 L94.83,72.90 L95.45,72.68 L96.08,72.47 L96.71,72.25 L97.34,72.03 L97.98,71.82 L98.63,71.60 L99.27,71.39 L99.93,71.17 L100.58,70.96 L101.25,70.74 L101.91,70.53 L102.58,70.31 L103.26,70.10 L103.94,69.88 L104.62,69.67 L105.31,69.45 L106.00,69.24 L106.70,69.02 L107.40,68.81 L108.10,68.59 L108.81,68.38 L109.53,68.16 L110.24,67.95 L110.97,67.73 L111.69,67.52 L112.42,67.30 L113.16,67.09 L113.90,66.87 L114.65,66.66 L115.39,66.44 L116.15,66.23 L116.91,66.01 L117.67,65.80 L118.43,65.58 L119.20,65.36 L119.98,65.15 L120.76,64.93 L121.54,64.72 L122.33,64.50 L123.12,64.28 L123.92,64.07 L124.72,63.85 L125.53,63.63 L126.34,63.42 L127.15,63.20 L127.97,62.98 L128.79,62.76 L129.62,62.55 L130.45,62.33 L131.29,62.11 L132.13,61.89 L132.98,61.67 L133.82,61.45 L134.68,61.23 L135.54,61.02 L136.40,60.80 L137.27,60.58 L138.14,60.36 L139.01,60.14 L139.89,59.92 L140.78,59.69 L141.67,59.47 L142.56,59.25 L143.46,59.03 L144.36,58.81 L145.26,58.59 L146.17,58.36 L147.09,58.14 L148.01,57.92 L148.93,57.69 L149.86,57.47 L150.79,57.24 L151.73,57.02 L152.67,56.79 L153.62,56.57 L154.56,56.34 L155.52,56.12 L156.48,55.89 L157.44,55.66 L158.41,55.44 L159.38,55.21 L160.36,54.98 L161.34,54.75 L162.32,54.52 L163.31,54.29 L164.30,54.06 L165.30,53.83 L166.30,53.60 L167.31,53.37 L168.32,53.14 L169.34,52.90 L170.36,52.67 L171.38,52.44 L172.41,52.20 L173.44,51.97 L174.48,51.74 L175.52,51.50 L176.57,51.26 L177.62,51.03 L178.67,50.79 L179.73,50.55 L180.79,50.32 L181.86,50.08 L182.93,49.84 L184.01,49.60 L185.09,49.36 L186.17,49.12 L187.26,48.88 L188.36,48.63 L189.46,48.39 L190.56,48.15 L191.67,47.90 L192.78,47.66 L193.89,47.41 L195.01,47.17 L196.14,46.92 L197.27,46.67 L198.40,46.43 L199.54,46.18 L200.68,45.93 L201.83,45.68 L202.98,45.43 L204.13,45.18 L205.29,44.93 L206.45,44.67 L207.62,44.42 L208.79,44.17 L209.97,43.91 L211.15,43.66 L212.34,43.40 L213.53,43.14 L214.72,42.89 L215.92,42.63 L217.12,42.37 L218.33,42.11 L219.54,41.85 L220.76,41.59 L221.98,41.32 L223.21,41.06 L224.43,40.80 L225.67,40.53 L226.91,40.27 L228.15,40.00 L229.40,39.73 L230.65,39.47 L231.90,39.20 L233.16,38.93 L234.43,38.66 L235.69,38.39 L236.97,38.11 L238.24,37.84 L239.53,37.57 L240.81,37.29 L242.10,37.02 L243.40,36.74 L244.70,36.46 L246.00,36.18" stroke="#c07a3a" stroke-width="1.3"/>
<path d="M50.80,234.50 L50.80,233.79 L50.81,232.96 L50.82,231.99 L50.83,230.91 L50.85,229.70 L50.88,228.39 L50.91,226.96 L50.94,225.43 L50.98,223.80 L51.02,222.08 L51.06,220.27 L51.11,218.37 L51.17,216.39 L51.23,214.33 L51.29,212.21 L51.36,210.01 L51.43,207.76 L51.51,205.45 L51.59,203.08 L51.67,200.67 L51.76,198.21 L51.86,195.71 L51.96,193.18 L52.06,190.62 L52.16,188.03 L52.28,185.43 L52.39,182.81 L52.51,180.17 L52.64,177.53 L52.77,174.89 L52.90,172.25 L53.04,169.62 L53.18,167.00 L53.32,164.40 L53.47,161.82 L53.63,159.27 L53.79,156.74 L53.95,154.25 L54.12,151.80 L54.29,149.40 L54.47,147.03 L54.65,144.69 L54.84,142.36 L55.03,140.04 L55.22,137.70 L55.42,135.33 L55.62,132.93 L55.83,130.47 L56.04,127.95 L56.26,125.37 L56.48,122.76 L56.70,120.19 L56.93,117.68 L57.17,115.29 L57.40,113.06 L57.65,111.04 L57.89,109.23 L58.15,107.60 L58.40,106.14 L58.66,104.82 L58.92,103.60 L59.19,102.48 L59.47,101.41 L59.74,100.39 L60.02,99.39 L60.31,98.43 L60.60,97.50 L60.90,96.60 L61.20,95.73 L61.50,94.88 L61.81,94.07 L62.12,93.28 L62.44,92.52 L62.76,91.78 L63.08,91.07 L63.41,90.38 L63.75,89.72 L64.08,89.07 L64.43,88.45 L64.77,87.85 L65.13,87.27 L65.48,86.71 L65.84,86.16 L66.21,85.64 L66.58,85.13 L66.95,84.63 L67.33,84.15 L67.71,83.69 L68.09,83.23 L68.49,82.79 L68.88,82.37 L69.28,81.95 L69.68,81.54 L70.09,81.15 L70.51,80.76 L70.92,80.38 L71.34,80.00 L71.77,79.63 L72.20,79.27 L72.63,78.91 L73.07,78.56 L73.52,78.21 L73.96,77.86 L74.42,77.51 L74.87,77.16 L75.33,76.81 L75.80,76.46 L76.27,76.11 L76.74,75.77 L77.22,75.42 L77.70,75.07 L78.19,74.72 L78.68,74.37 L79.18,74.02 L79.68,73.67 L80.18,73.32 L80.69,72.97 L81.20,72.62 L81.72,72.27 L82.24,71.92 L82.77,71.58 L83.30,71.23 L83.83,70.88 L84.37,70.54 L84.92,70.20 L85.46,69.85 L86.02,69.51 L86.57,69.17 L87.13,68.83 L87.70,68.49 L88.27,68.15 L88.84,67.82 L89.42,67.48 L90.01,67.15 L90.59,66.82 L91.18,66.49 L91.78,66.16 L92.38,65.84 L92.99,65.51 L93.60,65.19 L94.21,64.87 L94.83,64.55 L95.45,64.24 L96.08,63.93 L96.71,63.62 L97.34,63.31 L97.98,63.00 L98.63,62.70 L99.27,62.40 L99.93,62.10 L100.58,61.81 L101.25,61.52 L101.91,61.23 L102.58,60.94 L103.26,60.66 L103.94,60.38 L104.62,60.10 L105.31,59.83 L106.00,59.56 L106.70,59.30 L107.40,59.03 L108.10,58.77 L108.81,58.52 L109.53,58.26 L110.24,58.01 L110.97,57.76 L111.69,57.52 L112.42,57.27 L113.16,57.03 L113.90,56.79 L114.65,56.56 L115.39,56.32 L116.15,56.09 L116.91,55.86 L117.67,55.64 L118.43,55.41 L119.20,55.19 L119.98,54.97 L120.76,54.75 L121.54,54.54 L122.33,54.32 L123.12,54.11 L123.92,53.90 L124.72,53.69 L125.53,53.48 L126.34,53.27 L127.15,53.07 L127.97,52.87 L128.79,52.66 L129.62,52.46 L130.45,52.26 L131.29,52.07 L132.13,51.87 L132.98,51.67 L133.82,51.48 L134.68,51.28 L135.54,51.09 L136.40,50.90 L137.27,50.71 L138.14,50.51 L139.01,50.32 L139.89,50.13 L140.78,49.94 L141.67,49.75 L142.56,49.57 L143.46,49.38 L144.36,49.19 L145.26,49.00 L146.17,48.81 L147.09,48.62 L148.01,48.44 L148.93,48.25 L149.86,48.06 L150.79,47.87 L151.73,47.68 L152.67,47.50 L153.62,47.31 L154.56,47.12 L155.52,46.93 L156.48,46.74 L157.44,46.54 L158.41,46.35 L159.38,46.16 L160.36,45.97 L161.34,45.77 L162.32,45.58 L163.31,45.38 L164.30,45.18 L165.30,44.98 L166.30,44.78 L167.31,44.58 L168.32,44.38 L169.34,44.18 L170.36,43.97 L171.38,43.76 L172.41,43.56 L173.44,43.35 L174.48,43.13 L175.52,42.92 L176.57,42.71 L177.62,42.49 L178.67,42.27 L179.73,42.05 L180.79,41.83 L181.86,41.60 L182.93,41.38 L184.01,41.15 L185.09,40.91 L186.17,40.68 L187.26,40.44 L188.36,40.21 L189.46,39.96 L190.56,39.72 L191.67,39.47 L192.78,39.22 L193.89,38.97 L195.01,38.72 L196.14,38.46 L197.27,38.20 L198.40,37.94 L199.54,37.67 L200.68,37.40 L201.83,37.12 L202.98,36.85 L204.13,36.57 L205.29,36.28 L206.45,36.00 L207.62,35.71 L208.79,35.41 L209.97,35.12 L211.15,34.82 L212.34,34.51 L213.53,34.20 L214.72,33.89 L215.92,33.57 L217.12,33.25 L218.33,32.93 L219.54,32.60 L220.76,32.26 L221.98,31.93 L223.21,31.59 L224.43,31.24 L225.67,30.89 L226.91,30.53 L228.15,30.17 L229.40,29.81 L230.65,29.44 L231.90,29.07 L233.16,28.69 L234.43,28.31 L235.69,27.92 L236.97,27.52 L238.24,27.13 L239.53,26.72 L240.81,26.31 L242.10,25.90 L243.40,25.48 L244.70,25.05 L246.00,24.62" stroke="#9c9a1c" stroke-width="1.9" stroke-dasharray="7.5 6.5"/>
<path d="M50.80,234.50 L50.80,234.37 L50.81,234.02 L50.82,233.48 L50.83,232.74 L50.85,231.81 L50.88,230.71 L50.91,229.44 L50.94,228.01 L50.98,226.43 L51.02,224.72 L51.06,222.86 L51.11,220.89 L51.17,218.80 L51.23,216.60 L51.29,214.31 L51.36,211.92 L51.43,209.46 L51.51,206.92 L51.59,204.32 L51.67,201.67 L51.76,198.97 L51.86,196.24 L51.96,193.48 L52.06,190.70 L52.16,187.90 L52.28,185.11 L52.39,182.32 L52.51,179.55 L52.64,176.80 L52.77,174.09 L52.90,171.42 L53.04,168.80 L53.18,166.24 L53.32,163.74 L53.47,161.32 L53.63,158.99 L53.79,156.75 L53.95,154.62 L54.12,152.60 L54.29,150.69 L54.47,148.90 L54.65,147.18 L54.84,145.52 L55.03,143.89 L55.22,142.25 L55.42,140.58 L55.62,138.85 L55.83,137.03 L56.04,135.10 L56.26,133.03 L56.48,130.79 L56.70,128.39 L56.93,125.87 L57.17,123.23 L57.40,120.52 L57.65,117.75 L57.89,114.95 L58.15,112.14 L58.40,109.35 L58.66,106.61 L58.92,103.93 L59.19,101.33 L59.47,98.83 L59.74,96.45 L60.02,94.20 L60.31,92.10 L60.60,90.17 L60.90,88.42 L61.20,86.88 L61.50,85.55 L61.81,84.42 L62.12,83.46 L62.44,82.64 L62.76,81.94 L63.08,81.34 L63.41,80.80 L63.75,80.31 L64.08,79.84 L64.43,79.37 L64.77,78.91 L65.13,78.46 L65.48,78.01 L65.84,77.57 L66.21,77.13 L66.58,76.70 L66.95,76.27 L67.33,75.85 L67.71,75.44 L68.09,75.03 L68.49,74.62 L68.88,74.22 L69.28,73.83 L69.68,73.44 L70.09,73.05 L70.51,72.67 L70.92,72.29 L71.34,71.91 L71.77,71.54 L72.20,71.18 L72.63,70.81 L73.07,70.45 L73.52,70.10 L73.96,69.75 L74.42,69.40 L74.87,69.05 L75.33,68.70 L75.80,68.36 L76.27,68.02 L76.74,67.69 L77.22,67.35 L77.70,67.02 L78.19,66.69 L78.68,66.36 L79.18,66.04 L79.68,65.72 L80.18,65.40 L80.69,65.08 L81.20,64.77 L81.72,64.45 L82.24,64.14 L82.77,63.83 L83.30,63.53 L83.83,63.22 L84.37,62.92 L84.92,62.62 L85.46,62.32 L86.02,62.03 L86.57,61.73 L87.13,61.44 L87.70,61.15 L88.27,60.86 L88.84,60.58 L89.42,60.29 L90.01,60.01 L90.59,59.73 L91.18,59.45 L91.78,59.18 L92.38,58.90 L92.99,58.63 L93.60,58.36 L94.21,58.09 L94.83,57.83 L95.45,57.56 L96.08,57.30 L96.71,57.04 L97.34,56.78 L97.98,56.52 L98.63,56.26 L99.27,56.00 L99.93,55.75 L100.58,55.50 L101.25,55.25 L101.91,55.00 L102.58,54.75 L103.26,54.51 L103.94,54.26 L104.62,54.02 L105.31,53.78 L106.00,53.54 L106.70,53.30 L107.40,53.06 L108.10,52.82 L108.81,52.59 L109.53,52.36 L110.24,52.12 L110.97,51.89 L111.69,51.66 L112.42,51.43 L113.16,51.21 L113.90,50.98 L114.65,50.76 L115.39,50.53 L116.15,50.31 L116.91,50.09 L117.67,49.87 L118.43,49.65 L119.20,49.43 L119.98,49.21 L120.76,48.99 L121.54,48.78 L122.33,48.56 L123.12,48.35 L123.92,48.14 L124.72,47.92 L125.53,47.71 L126.34,47.50 L127.15,47.29 L127.97,47.08 L128.79,46.88 L129.62,46.67 L130.45,46.46 L131.29,46.26 L132.13,46.05 L132.98,45.85 L133.82,45.64 L134.68,45.44 L135.54,45.24 L136.40,45.03 L137.27,44.83 L138.14,44.63 L139.01,44.43 L139.89,44.23 L140.78,44.03 L141.67,43.83 L142.56,43.63 L143.46,43.43 L144.36,43.24 L145.26,43.04 L146.17,42.84 L147.09,42.64 L148.01,42.45 L148.93,42.25 L149.86,42.05 L150.79,41.86 L151.73,41.66 L152.67,41.47 L153.62,41.27 L154.56,41.08 L155.52,40.88 L156.48,40.68 L157.44,40.49 L158.41,40.29 L159.38,40.10 L160.36,39.90 L161.34,39.71 L162.32,39.51 L163.31,39.32 L164.30,39.12 L165.30,38.93 L166.30,38.73 L167.31,38.54 L168.32,38.34 L169.34,38.15 L170.36,37.95 L171.38,37.76 L172.41,37.56 L173.44,37.36 L174.48,37.16 L175.52,36.97 L176.57,36.77 L177.62,36.57 L178.67,36.37 L179.73,36.17 L180.79,35.98 L181.86,35.78 L182.93,35.58 L184.01,35.37 L185.09,35.17 L186.17,34.97 L187.26,34.77 L188.36,34.57 L189.46,34.36 L190.56,34.16 L191.67,33.96 L192.78,33.75 L193.89,33.54 L195.01,33.34 L196.14,33.13 L197.27,32.92 L198.40,32.71 L199.54,32.50 L200.68,32.29 L201.83,32.08 L202.98,31.87 L204.13,31.66 L205.29,31.44 L206.45,31.23 L207.62,31.01 L208.79,30.80 L209.97,30.58 L211.15,30.36 L212.34,30.14 L213.53,29.92 L214.72,29.70 L215.92,29.48 L217.12,29.25 L218.33,29.03 L219.54,28.80 L220.76,28.57 L221.98,28.35 L223.21,28.12 L224.43,27.89 L225.67,27.65 L226.91,27.42 L228.15,27.19 L229.40,26.95 L230.65,26.71 L231.90,26.47 L233.16,26.23 L234.43,25.99 L235.69,25.75 L236.97,25.50 L238.24,25.26 L239.53,25.01 L240.81,24.76 L242.10,24.51 L243.40,24.26 L244.70,24.01 L246.00,23.75" stroke="#20a8bc" stroke-width="1.4"/>
<path d="M50.80,234.50 L50.80,234.31 L50.81,233.91 L50.82,233.31 L50.83,232.53 L50.85,231.57 L50.88,230.44 L50.91,229.15 L50.94,227.70 L50.98,226.11 L51.02,224.38 L51.06,222.52 L51.11,220.55 L51.17,218.46 L51.23,216.27 L51.29,213.98 L51.36,211.61 L51.43,209.16 L51.51,206.65 L51.59,204.07 L51.67,201.44 L51.76,198.76 L51.86,196.06 L51.96,193.32 L52.06,190.56 L52.16,187.80 L52.28,185.04 L52.39,182.28 L52.51,179.53 L52.64,176.81 L52.77,174.13 L52.90,171.48 L53.04,168.88 L53.18,166.35 L53.32,163.87 L53.47,161.47 L53.63,159.16 L53.79,156.94 L53.95,154.81 L54.12,152.80 L54.29,150.90 L54.47,149.10 L54.65,147.39 L54.84,145.72 L55.03,144.07 L55.22,142.42 L55.42,140.73 L55.62,138.97 L55.83,137.13 L56.04,135.16 L56.26,133.05 L56.48,130.76 L56.70,128.32 L56.93,125.74 L57.17,123.06 L57.40,120.31 L57.65,117.51 L57.89,114.69 L58.15,111.87 L58.40,109.09 L58.66,106.38 L58.92,103.76 L59.19,101.26 L59.47,98.90 L59.74,96.70 L60.02,94.64 L60.31,92.73 L60.60,90.96 L60.90,89.32 L61.20,87.80 L61.50,86.40 L61.81,85.12 L62.12,83.94 L62.44,82.86 L62.76,81.87 L63.08,80.98 L63.41,80.16 L63.75,79.43 L64.08,78.76 L64.43,78.16 L64.77,77.62 L65.13,77.13 L65.48,76.68 L65.84,76.28 L66.21,75.91 L66.58,75.57 L66.95,75.25 L67.33,74.95 L67.71,74.66 L68.09,74.37 L68.49,74.08 L68.88,73.79 L69.28,73.49 L69.68,73.18 L70.09,72.88 L70.51,72.57 L70.92,72.25 L71.34,71.93 L71.77,71.61 L72.20,71.28 L72.63,70.96 L73.07,70.63 L73.52,70.29 L73.96,69.96 L74.42,69.62 L74.87,69.28 L75.33,68.94 L75.80,68.60 L76.27,68.25 L76.74,67.91 L77.22,67.57 L77.70,67.22 L78.19,66.87 L78.68,66.53 L79.18,66.18 L79.68,65.84 L80.18,65.49 L80.69,65.15 L81.20,64.80 L81.72,64.46 L82.24,64.12 L82.77,63.78 L83.30,63.44 L83.83,63.11 L84.37,62.77 L84.92,62.44 L85.46,62.11 L86.02,61.79 L86.57,61.46 L87.13,61.14 L87.70,60.83 L88.27,60.51 L88.84,60.20 L89.42,59.89 L90.01,59.58 L90.59,59.28 L91.18,58.98 L91.78,58.68 L92.38,58.38 L92.99,58.08 L93.60,57.79 L94.21,57.50 L94.83,57.22 L95.45,56.93 L96.08,56.65 L96.71,56.37 L97.34,56.09 L97.98,55.81 L98.63,55.54 L99.27,55.27 L99.93,55.00 L100.58,54.73 L101.25,54.46 L101.91,54.20 L102.58,53.94 L103.26,53.68 L103.94,53.42 L104.62,53.16 L105.31,52.91 L106.00,52.66 L106.70,52.41 L107.40,52.16 L108.10,51.91 L108.81,51.66 L109.53,51.42 L110.24,51.18 L110.97,50.94 L111.69,50.70 L112.42,50.46 L113.16,50.22 L113.90,49.99 L114.65,49.76 L115.39,49.53 L116.15,49.30 L116.91,49.07 L117.67,48.84 L118.43,48.61 L119.20,48.39 L119.98,48.16 L120.76,47.94 L121.54,47.72 L122.33,47.50 L123.12,47.28 L123.92,47.06 L124.72,46.85 L125.53,46.63 L126.34,46.42 L127.15,46.20 L127.97,45.99 L128.79,45.78 L129.62,45.57 L130.45,45.36 L131.29,45.15 L132.13,44.94 L132.98,44.73 L133.82,44.52 L134.68,44.32 L135.54,44.11 L136.40,43.91 L137.27,43.70 L138.14,43.50 L139.01,43.30 L139.89,43.09 L140.78,42.89 L141.67,42.69 L142.56,42.49 L143.46,42.29 L144.36,42.09 L145.26,41.88 L146.17,41.68 L147.09,41.48 L148.01,41.29 L148.93,41.09 L149.86,40.89 L150.79,40.69 L151.73,40.49 L152.67,40.29 L153.62,40.09 L154.56,39.89 L155.52,39.69 L156.48,39.50 L157.44,39.30 L158.41,39.10 L159.38,38.90 L160.36,38.70 L161.34,38.50 L162.32,38.30 L163.31,38.10 L164.30,37.90 L165.30,37.70 L166.30,37.50 L167.31,37.30 L168.32,37.10 L169.34,36.90 L170.36,36.69 L171.38,36.49 L172.41,36.29 L173.44,36.08 L174.48,35.88 L175.52,35.67 L176.57,35.47 L177.62,35.26 L178.67,35.06 L179.73,34.85 L180.79,34.64 L181.86,34.43 L182.93,34.22 L184.01,34.01 L185.09,33.80 L186.17,33.58 L187.26,33.37 L188.36,33.16 L189.46,32.94 L190.56,32.72 L191.67,32.51 L192.78,32.29 L193.89,32.07 L195.01,31.85 L196.14,31.62 L197.27,31.40 L198.40,31.18 L199.54,30.95 L200.68,30.72 L201.83,30.49 L202.98,30.26 L204.13,30.03 L205.29,29.80 L206.45,29.57 L207.62,29.33 L208.79,29.09 L209.97,28.85 L211.15,28.61 L212.34,28.37 L213.53,28.13 L214.72,27.88 L215.92,27.64 L217.12,27.39 L218.33,27.14 L219.54,26.88 L220.76,26.63 L221.98,26.37 L223.21,26.12 L224.43,25.86 L225.67,25.60 L226.91,25.33 L228.15,25.07 L229.40,24.80 L230.65,24.53 L231.90,24.26 L233.16,23.98 L234.43,23.71 L235.69,23.43 L236.97,23.15 L238.24,22.87 L239.53,22.58 L240.81,22.29 L242.10,22.01 L243.40,21.71 L244.70,21.42 L246.00,21.12" stroke="#3a68b8" stroke-width="1.9" stroke-dasharray="7.5 6.5"/>
</g>
<g font-family="Liberation Sans, sans-serif" font-size="14" fill="#000">
<text x="44.3" y="238.10" text-anchor="end">0</text>
<text x="44.3" y="181.75" text-anchor="end">10</text>
<text x="44.3" y="125.40" text-anchor="end">20</text>
<text x="44.3" y="69.05" text-anchor="end">30</text>
<text x="44.3" y="12.70" text-anchor="end">40</text>
<text x="50.80" y="252" text-anchor="middle">0</text>
<text x="132.00" y="252" text-anchor="middle">5000</text>
<text x="213.20" y="252" text-anchor="middle">10000</text>
<text x="294.40" y="252" text-anchor="middle">15000</text>
</g>
<text x="175" y="267.6" text-anchor="middle" font-family="Liberation Sans, sans-serif" font-size="13.5" font-weight="bold">H (Oe)</text>
<text x="161.5" y="286.3" text-anchor="middle" font-family="Liberation Serif, serif" font-size="13.8" font-weight="bold">(a)</text>
<text transform="translate(14.5,158.6) rotate(-90)" font-family="Liberation Sans, sans-serif" font-size="12.2" font-weight="bold" textLength="68.3" lengthAdjust="spacingAndGlyphs">M (emu.g<tspan font-size="8.5" dy="-6">-1</tspan><tspan dy="6">)</tspan></text>
<g font-family="Liberation Sans, sans-serif" font-size="10.5" fill="#000">
<text x="250.3" y="22.6">289K</text>
<text x="267.9" y="34">294K</text>
<text x="266.9" y="176.2">329K</text>
<text x="249.3" y="190.7">269K</text>
<text transform="translate(263.6,106) rotate(-90)">&#916;T = 2 K</text>
<text transform="translate(283,129) rotate(-90)">&#916;T = 5 K</text>
</g>
<path d="M258.6,27.8 L255.4,36.2 L261.8,36.2 Z" fill="#000"/>
<line x1="259.2" y1="39" x2="259.2" y2="62" stroke="#000" stroke-width="1.8" stroke-dasharray="8.3 5.5"/>
<line x1="259.5" y1="114.7" x2="259.5" y2="180" stroke="#000" stroke-width="1.8" stroke-dasharray="8.3 5.5"/>
<line x1="278.2" y1="39.5" x2="278.2" y2="77" stroke="#000" stroke-width="1.8"/>
<line x1="278.2" y1="129.2" x2="278.2" y2="151" stroke="#000" stroke-width="1.8"/>
<path d="M278.1,161.7 L275.0,150.3 L281.2,150.3 Z" fill="#000"/>
<clipPath id="cr"><rect x="385" y="10" width="233" height="216"/></clipPath>
<g clip-path="url(#cr)">
<line x1="376.93" y1="168.4" x2="618" y2="168.4" stroke="#000" stroke-width="2" stroke-dasharray="8 5.87"/>
<polyline points="398.5,166.8 402.7,155.0 407.2,148.0 409.4,142.0 412.5,131.0 414.7,110.7 418.0,75.5 420.2,27.3 423.5,18.5 426.0,54.3 428.7,90.0 431.0,127.0 434.0,153.0 437.0,167.0 440.0,178.6 442.0,180.1 443.4,181.1 444.8,183.0 446.1,182.9 447.5,184.1 448.9,184.4 450.3,184.2 451.7,183.9 453.1,182.4 454.4,182.1 455.8,181.2 457.2,182.3 458.6,183.8 460.0,185.4 461.4,184.5 462.7,184.6 464.1,185.2 465.5,185.6 466.9,185.1 468.3,184.9 469.7,185.7 471.0,184.5 472.4,185.9 473.8,185.3 475.2,185.3 476.6,185.5 478.0,185.9 479.3,186.8 480.7,186.1 482.1,186.9 483.5,187.1 484.9,186.9 486.3,187.4 487.6,186.9 489.0,187.0 490.4,187.4 491.8,188.3 493.2,188.3 494.6,188.4 495.9,189.1 497.3,189.3 498.7,189.4 500.1,190.4 501.5,190.6 502.9,190.3 504.2,191.1 505.6,191.4 507.0,192.2 508.4,192.4 509.8,192.1 511.1,193.5 512.5,192.6 513.9,193.4 515.3,194.3 516.7,193.8 518.1,194.7 519.4,194.4 520.8,195.8 522.2,196.4 523.6,196.7 525.0,197.6 526.4,197.4 527.7,198.4 529.1,198.8 530.5,199.3 531.9,199.8 533.3,200.9 534.7,201.6 536.0,201.6 537.4,202.4 538.8,202.0 540.2,203.3 541.6,203.6 543.0,204.6 544.3,204.7 545.7,204.3 547.1,204.6 548.5,205.1 549.9,204.3 551.3,204.6 552.6,203.7 554.0,203.3 555.4,202.6 556.8,202.5 558.2,200.6 559.6,199.7 560.9,198.9 562.3,198.5 563.7,196.5 565.1,196.2 566.5,195.5 567.9,195.2 569.2,194.3 570.6,193.6 572.0,191.9 573.4,191.3 574.8,190.4 576.2,190.3 577.5,189.6 578.9,187.6 580.3,186.8 581.7,186.0 583.1,185.2 584.4,184.8 585.8,184.5 587.2,183.6 588.6,182.7 590.0,182.8 591.4,182.3 592.7,182.1 594.1,182.2 595.5,181.3 596.9,180.6 598.3,180.3 599.7,179.9 601.0,178.4 602.4,178.8 603.8,178.0" fill="none" stroke="#e01818" stroke-width="0.8"/>
<path d="M398.50,162.20 L393.80,170.60 L403.20,170.60 Z M402.70,150.40 L398.00,158.80 L407.40,158.80 Z M407.20,143.40 L402.50,151.80 L411.90,151.80 Z M409.40,137.40 L404.70,145.80 L414.10,145.80 Z M412.50,126.40 L407.80,134.80 L417.20,134.80 Z M414.70,106.10 L410.00,114.50 L419.40,114.50 Z M418.00,70.90 L413.30,79.30 L422.70,79.30 Z M420.20,22.70 L415.50,31.10 L424.90,31.10 Z M423.50,13.90 L418.80,22.30 L428.20,22.30 Z M426.00,49.70 L421.30,58.10 L430.70,58.10 Z M428.70,85.40 L424.00,93.80 L433.40,93.80 Z M431.00,122.40 L426.30,130.80 L435.70,130.80 Z M434.00,148.40 L429.30,156.80 L438.70,156.80 Z M437.00,162.40 L432.30,170.80 L441.70,170.80 Z M440.00,174.00 L435.30,182.40 L444.70,182.40 Z M442.00,175.51 L437.30,183.91 L446.70,183.91 Z M443.38,176.49 L438.68,184.89 L448.08,184.89 Z M444.77,178.41 L440.07,186.81 L449.47,186.81 Z M446.15,178.26 L441.45,186.66 L450.85,186.66 Z M447.53,179.46 L442.83,187.86 L452.23,187.86 Z M448.91,179.78 L444.21,188.18 L453.61,188.18 Z M450.30,179.59 L445.60,187.99 L455.00,187.99 Z M451.68,179.34 L446.98,187.74 L456.38,187.74 Z M453.06,177.80 L448.36,186.20 L457.76,186.20 Z M454.45,177.48 L449.75,185.88 L459.15,185.88 Z M455.83,176.55 L451.13,184.95 L460.53,184.95 Z M457.21,177.66 L452.51,186.06 L461.91,186.06 Z M458.60,179.20 L453.90,187.60 L463.30,187.60 Z M459.98,180.84 L455.28,189.24 L464.68,189.24 Z M461.36,179.87 L456.66,188.27 L466.06,188.27 Z M462.74,180.01 L458.04,188.41 L467.44,188.41 Z M464.13,180.58 L459.43,188.98 L468.83,188.98 Z M465.51,181.03 L460.81,189.43 L470.21,189.43 Z M466.89,180.51 L462.19,188.91 L471.59,188.91 Z M468.28,180.26 L463.58,188.66 L472.98,188.66 Z M469.66,181.07 L464.96,189.47 L474.36,189.47 Z M471.04,179.92 L466.34,188.32 L475.74,188.32 Z M472.43,181.27 L467.73,189.67 L477.13,189.67 Z M473.81,180.68 L469.11,189.08 L478.51,189.08 Z M475.19,180.68 L470.49,189.08 L479.89,189.08 Z M476.57,180.85 L471.87,189.25 L481.27,189.25 Z M477.96,181.33 L473.26,189.73 L482.66,189.73 Z M479.34,182.24 L474.64,190.64 L484.04,190.64 Z M480.72,181.55 L476.02,189.95 L485.42,189.95 Z M482.11,182.28 L477.41,190.68 L486.81,190.68 Z M483.49,182.54 L478.79,190.94 L488.19,190.94 Z M484.87,182.35 L480.17,190.75 L489.57,190.75 Z M486.26,182.77 L481.56,191.17 L490.96,191.17 Z M487.64,182.27 L482.94,190.67 L492.34,190.67 Z M489.02,182.44 L484.32,190.84 L493.72,190.84 Z M490.40,182.82 L485.70,191.22 L495.10,191.22 Z M491.79,183.67 L487.09,192.07 L496.49,192.07 Z M493.17,183.65 L488.47,192.05 L497.87,192.05 Z M494.55,183.83 L489.85,192.23 L499.25,192.23 Z M495.94,184.54 L491.24,192.94 L500.64,192.94 Z M497.32,184.69 L492.62,193.09 L502.02,193.09 Z M498.70,184.81 L494.00,193.21 L503.40,193.21 Z M500.09,185.83 L495.39,194.23 L504.79,194.23 Z M501.47,186.04 L496.77,194.44 L506.17,194.44 Z M502.85,185.74 L498.15,194.14 L507.55,194.14 Z M504.23,186.54 L499.53,194.94 L508.93,194.94 Z M505.62,186.81 L500.92,195.21 L510.32,195.21 Z M507.00,187.64 L502.30,196.04 L511.70,196.04 Z M508.38,187.77 L503.68,196.17 L513.08,196.17 Z M509.77,187.51 L505.07,195.91 L514.47,195.91 Z M511.15,188.86 L506.45,197.26 L515.85,197.26 Z M512.53,188.03 L507.83,196.43 L517.23,196.43 Z M513.92,188.83 L509.22,197.23 L518.62,197.23 Z M515.30,189.68 L510.60,198.08 L520.00,198.08 Z M516.68,189.21 L511.98,197.61 L521.38,197.61 Z M518.06,190.06 L513.36,198.46 L522.76,198.46 Z M519.45,189.80 L514.75,198.20 L524.15,198.20 Z M520.83,191.15 L516.13,199.55 L525.53,199.55 Z M522.21,191.81 L517.51,200.21 L526.91,200.21 Z M523.60,192.07 L518.90,200.47 L528.30,200.47 Z M524.98,193.02 L520.28,201.42 L529.68,201.42 Z M526.36,192.76 L521.66,201.16 L531.06,201.16 Z M527.75,193.82 L523.05,202.22 L532.45,202.22 Z M529.13,194.20 L524.43,202.60 L533.83,202.60 Z M530.51,194.73 L525.81,203.13 L535.21,203.13 Z M531.89,195.15 L527.19,203.55 L536.59,203.55 Z M533.28,196.28 L528.58,204.68 L537.98,204.68 Z M534.66,197.02 L529.96,205.42 L539.36,205.42 Z M536.04,196.95 L531.34,205.35 L540.74,205.35 Z M537.43,197.76 L532.73,206.16 L542.13,206.16 Z M538.81,197.35 L534.11,205.75 L543.51,205.75 Z M540.19,198.68 L535.49,207.08 L544.89,207.08 Z M541.58,199.04 L536.88,207.44 L546.28,207.44 Z M542.96,199.95 L538.26,208.35 L547.66,208.35 Z M544.34,200.15 L539.64,208.55 L549.04,208.55 Z M545.73,199.67 L541.02,208.07 L550.43,208.07 Z M547.11,199.95 L542.41,208.35 L551.81,208.35 Z M548.49,200.49 L543.79,208.89 L553.19,208.89 Z M549.87,199.72 L545.17,208.12 L554.57,208.12 Z M551.26,199.97 L546.56,208.37 L555.96,208.37 Z M552.64,199.14 L547.94,207.54 L557.34,207.54 Z M554.02,198.66 L549.32,207.06 L558.72,207.06 Z M555.41,197.98 L550.71,206.38 L560.11,206.38 Z M556.79,197.93 L552.09,206.33 L561.49,206.33 Z M558.17,196.00 L553.47,204.40 L562.87,204.40 Z M559.56,195.13 L554.86,203.53 L564.26,203.53 Z M560.94,194.29 L556.24,202.69 L565.64,202.69 Z M562.32,193.93 L557.62,202.33 L567.02,202.33 Z M563.70,191.90 L559.00,200.30 L568.40,200.30 Z M565.09,191.61 L560.39,200.01 L569.79,200.01 Z M566.47,190.95 L561.77,199.35 L571.17,199.35 Z M567.85,190.61 L563.15,199.01 L572.55,199.01 Z M569.24,189.71 L564.54,198.11 L573.94,198.11 Z M570.62,188.97 L565.92,197.37 L575.32,197.37 Z M572.00,187.34 L567.30,195.74 L576.70,195.74 Z M573.39,186.72 L568.69,195.12 L578.09,195.12 Z M574.77,185.84 L570.07,194.24 L579.47,194.24 Z M576.15,185.73 L571.45,194.13 L580.85,194.13 Z M577.53,184.99 L572.83,193.39 L582.23,193.39 Z M578.92,183.02 L574.22,191.42 L583.62,191.42 Z M580.30,182.21 L575.60,190.61 L585.00,190.61 Z M581.68,181.44 L576.98,189.84 L586.38,189.84 Z M583.07,180.60 L578.37,189.00 L587.77,189.00 Z M584.45,180.22 L579.75,188.62 L589.15,188.62 Z M585.83,179.90 L581.13,188.30 L590.53,188.30 Z M587.22,178.96 L582.52,187.36 L591.92,187.36 Z M588.60,178.13 L583.90,186.53 L593.30,186.53 Z M589.98,178.23 L585.28,186.63 L594.68,186.63 Z M591.36,177.69 L586.66,186.09 L596.06,186.09 Z M592.75,177.49 L588.05,185.89 L597.45,185.89 Z M594.13,177.55 L589.43,185.95 L598.83,185.95 Z M595.51,176.71 L590.81,185.11 L600.21,185.11 Z M596.90,175.99 L592.20,184.39 L601.60,184.39 Z M598.28,175.66 L593.58,184.06 L602.98,184.06 Z M599.66,175.26 L594.96,183.66 L604.36,183.66 Z M601.05,173.75 L596.35,182.15 L605.75,182.15 Z M602.43,174.25 L597.73,182.65 L607.13,182.65 Z M603.81,173.39 L599.11,181.79 L608.51,181.79 Z" fill="#ff0000"/>
<polyline points="445.0,167.0 448.0,162.0 451.5,161.0 455.0,160.0 458.5,157.0 462.0,148.2 464.4,133.7 467.3,120.8 470.0,82.1 472.9,53.6 475.3,32.0 478.4,37.6 481.1,55.5 483.9,92.8 486.6,118.9 489.7,141.4 492.5,155.5 495.3,167.1 497.4,164.0 501.5,171.2 504.0,173.0 506.7,175.3 509.3,178.1 511.9,184.7 514.0,179.5 517.1,188.8 519.1,183.6 521.7,184.5 525.2,194.0 528.0,192.0 531.2,191.4 533.8,196.6 536.0,197.5 539.0,199.1 542.4,203.4 545.0,205.0 547.6,207.8 551.9,205.2 552.8,215.5 555.3,219.0 557.5,215.0 559.7,211.2 562.0,207.0 564.0,203.4 566.5,201.0 569.1,198.3 572.0,195.0 575.2,192.2 578.6,187.1 581.0,187.0 584.0,185.5 587.2,184.5 590.3,184.1 593.0,181.5 596.0,179.5 600.0,176.9 603.0,176.5 605.3,176.7" fill="none" stroke="#007a00" stroke-width="0.9"/>
<g fill="#007d00">
<circle cx="445.00" cy="167.00" r="4"/>
<circle cx="448.00" cy="162.00" r="4"/>
<circle cx="451.50" cy="161.00" r="4"/>
<circle cx="455.00" cy="160.00" r="4"/>
<circle cx="458.50" cy="157.00" r="4"/>
<circle cx="462.00" cy="148.20" r="4"/>
<circle cx="464.40" cy="133.70" r="4"/>
<circle cx="467.30" cy="120.80" r="4"/>
<circle cx="470.00" cy="82.10" r="4"/>
<circle cx="472.90" cy="53.60" r="4"/>
<circle cx="475.30" cy="32.00" r="4"/>
<circle cx="478.40" cy="37.60" r="4"/>
<circle cx="481.10" cy="55.50" r="4"/>
<circle cx="483.90" cy="92.80" r="4"/>
<circle cx="486.60" cy="118.90" r="4"/>
<circle cx="489.70" cy="141.40" r="4"/>
<circle cx="492.50" cy="155.50" r="4"/>
<circle cx="495.30" cy="167.10" r="4"/>
<circle cx="497.40" cy="164.00" r="4"/>
<circle cx="501.50" cy="171.20" r="4"/>
<circle cx="504.00" cy="173.00" r="4"/>
<circle cx="506.70" cy="175.30" r="4"/>
<circle cx="509.30" cy="178.10" r="4"/>
<circle cx="511.90" cy="184.70" r="4"/>
<circle cx="514.00" cy="179.50" r="4"/>
<circle cx="517.10" cy="188.80" r="4"/>
<circle cx="519.10" cy="183.60" r="4"/>
<circle cx="521.70" cy="184.50" r="4"/>
<circle cx="525.20" cy="194.00" r="4"/>
<circle cx="528.00" cy="192.00" r="4"/>
<circle cx="531.20" cy="191.40" r="4"/>
<circle cx="533.80" cy="196.60" r="4"/>
<circle cx="536.00" cy="197.50" r="4"/>
<circle cx="539.00" cy="199.10" r="4"/>
<circle cx="542.40" cy="203.40" r="4"/>
<circle cx="545.00" cy="205.00" r="4"/>
<circle cx="547.60" cy="207.80" r="4"/>
<circle cx="551.90" cy="205.20" r="4"/>
<circle cx="552.80" cy="215.50" r="4"/>
<circle cx="555.30" cy="219.00" r="4"/>
<circle cx="557.50" cy="215.00" r="4"/>
<circle cx="559.70" cy="211.20" r="4"/>
<circle cx="562.00" cy="207.00" r="4"/>
<circle cx="564.00" cy="203.40" r="4"/>
<circle cx="566.50" cy="201.00" r="4"/>
<circle cx="569.10" cy="198.30" r="4"/>
<circle cx="572.00" cy="195.00" r="4"/>
<circle cx="575.20" cy="192.20" r="4"/>
<circle cx="578.60" cy="187.10" r="4"/>
<circle cx="581.00" cy="187.00" r="4"/>
<circle cx="584.00" cy="185.50" r="4"/>
<circle cx="587.20" cy="184.50" r="4"/>
<circle cx="590.30" cy="184.10" r="4"/>
<circle cx="593.00" cy="181.50" r="4"/>
<circle cx="596.00" cy="179.50" r="4"/>
<circle cx="600.00" cy="176.90" r="4"/>
<circle cx="603.00" cy="176.50" r="4"/>
<circle cx="605.30" cy="176.70" r="4"/>
</g>
</g>
<g stroke="#000" stroke-width="1.6">
<line x1="384.80" y1="226.60" x2="384.80" y2="220.60"/>
<line x1="384.80" y1="9.60" x2="384.80" y2="14.60"/>
<line x1="453.98" y1="226.60" x2="453.98" y2="220.60"/>
<line x1="453.98" y1="9.60" x2="453.98" y2="14.60"/>
<line x1="523.15" y1="226.60" x2="523.15" y2="220.60"/>
<line x1="523.15" y1="9.60" x2="523.15" y2="14.60"/>
<line x1="592.33" y1="226.60" x2="592.33" y2="220.60"/>
<line x1="592.33" y1="9.60" x2="592.33" y2="14.60"/>
<line x1="419.39" y1="226.60" x2="419.39" y2="223.10"/>
<line x1="419.39" y1="9.60" x2="419.39" y2="13.10"/>
<line x1="488.56" y1="226.60" x2="488.56" y2="223.10"/>
<line x1="488.56" y1="9.60" x2="488.56" y2="13.10"/>
<line x1="557.74" y1="226.60" x2="557.74" y2="223.10"/>
<line x1="557.74" y1="9.60" x2="557.74" y2="13.10"/>
<line x1="384.80" y1="221.50" x2="390.80" y2="221.50"/>
<line x1="618.50" y1="221.50" x2="612.50" y2="221.50"/>
<line x1="384.80" y1="168.50" x2="390.80" y2="168.50"/>
<line x1="618.50" y1="168.50" x2="612.50" y2="168.50"/>
<line x1="384.80" y1="115.50" x2="390.80" y2="115.50"/>
<line x1="618.50" y1="115.50" x2="612.50" y2="115.50"/>
<line x1="384.80" y1="62.50" x2="390.80" y2="62.50"/>
<line x1="618.50" y1="62.50" x2="612.50" y2="62.50"/>
<line x1="384.80" y1="9.50" x2="390.80" y2="9.50"/>
<line x1="618.50" y1="9.50" x2="612.50" y2="9.50"/>
<line x1="384.80" y1="195.00" x2="388.30" y2="195.00"/>
<line x1="618.50" y1="195.00" x2="615.00" y2="195.00"/>
<line x1="384.80" y1="142.00" x2="388.30" y2="142.00"/>
<line x1="618.50" y1="142.00" x2="615.00" y2="142.00"/>
<line x1="384.80" y1="89.00" x2="388.30" y2="89.00"/>
<line x1="618.50" y1="89.00" x2="615.00" y2="89.00"/>
<line x1="384.80" y1="36.00" x2="388.30" y2="36.00"/>
<line x1="618.50" y1="36.00" x2="615.00" y2="36.00"/>
</g>
<rect x="384.80" y="9.60" width="233.70" height="217.00" fill="none" stroke="#000" stroke-width="1.8"/>
<g font-family="Liberation Sans, sans-serif" font-size="14" fill="#000">
<text x="378.6" y="225.50" text-anchor="end">-2</text>
<text x="378.6" y="172.50" text-anchor="end">0</text>
<text x="378.6" y="119.50" text-anchor="end">2</text>
<text x="378.6" y="66.50" text-anchor="end">4</text>
<text x="378.6" y="13.50" text-anchor="end">6</text>
<text x="384.80" y="244.2" text-anchor="middle">250</text>
<text x="453.98" y="244.2" text-anchor="middle">275</text>
<text x="523.15" y="244.2" text-anchor="middle">300</text>
<text x="592.33" y="244.2" text-anchor="middle">325</text>
</g>
<text x="501" y="261.7" text-anchor="middle" font-family="Liberation Sans, sans-serif" font-size="13.3" font-weight="bold">T (K)</text>
<text x="483.5" y="284" text-anchor="middle" font-family="Liberation Serif, serif" font-size="14" font-weight="bold">(b)</text>
<text transform="translate(355.8,169.8) rotate(-90)" font-family="Liberation Sans, sans-serif" font-size="13.5" font-weight="bold" textLength="99.5" lengthAdjust="spacingAndGlyphs"><tspan font-weight="normal" font-size="11">&#916;</tspan>S<tspan font-size="10.5" dy="3">m</tspan><tspan dy="-3"> (Jkg</tspan><tspan font-size="10" dy="-6">-1</tspan><tspan dy="6">K</tspan><tspan font-size="10" dy="-6">-1</tspan><tspan dy="6">)</tspan></text>
<line x1="492" y1="28.8" x2="523.2" y2="28.8" stroke="#ff3030" stroke-width="1.2"/>
<path d="M507.4,23.5 L502.2,32.4 L512.6,32.4 Z" fill="#ff0000"/>
<line x1="492" y1="48.3" x2="523.2" y2="48.3" stroke="#008000" stroke-width="1.2"/>
<circle cx="507.4" cy="48.3" r="4.2" fill="#007d00"/>
<g font-family="Liberation Sans, sans-serif" font-size="13.5" fill="#000">
<text x="530.5" y="33.7" font-size="13.9">As-quenched</text>
<text x="530.5" y="53">T<tspan font-size="9" dy="4.5">a</tspan><tspan dy="-4.5">= 1000</tspan><tspan font-size="8" dy="-5.5">o</tspan><tspan dy="5.5">C,</tspan></text>
<text x="534" y="71.6">t<tspan font-size="9" dy="5">a</tspan><tspan dy="-5"> = 15 min</tspan></text>
</g>
</svg>
</body></html>
